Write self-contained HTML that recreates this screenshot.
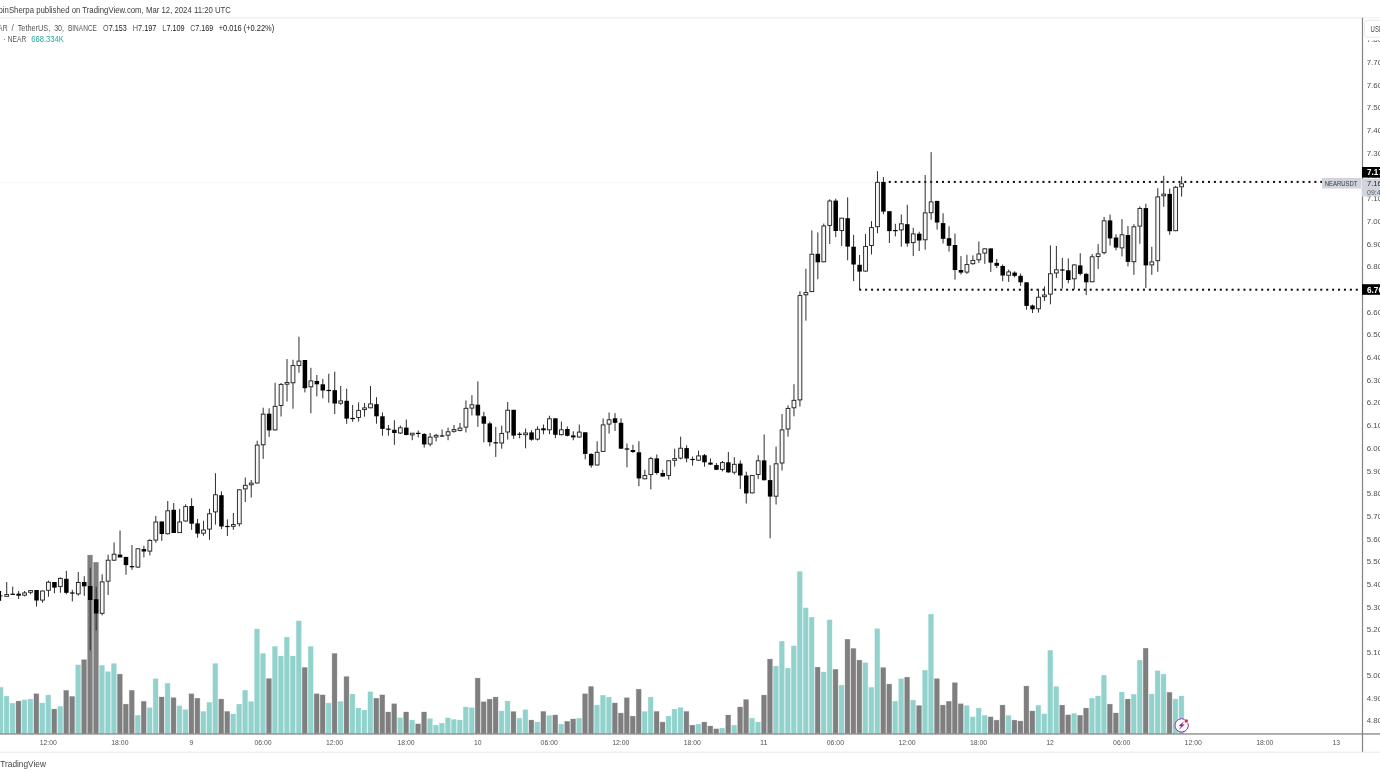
<!DOCTYPE html><html><head><meta charset="utf-8"><title>NEARUSDT chart</title>
<style>html,body{margin:0;padding:0;background:#fff;}body{width:1380px;height:773px;overflow:hidden;position:relative;font-family:"Liberation Sans",sans-serif;}svg{position:absolute;left:0;top:0;display:block;will-change:transform;transform:translateZ(0)}text{font-family:"Liberation Sans",sans-serif;}</style></head><body>
<svg width="1380" height="773" viewBox="0 0 1380 773">
<rect x="0" y="0" width="1380" height="773" fill="#fff"/>
<rect x="0" y="17.4" width="1380" height="1" fill="#e9e9ec"/>
<rect x="0" y="751.7" width="1380" height="1" fill="#e9e9ec"/>
<rect x="0" y="182.4" width="1322" height="0.8" fill="#f0f0f2"/>
<g shape-rendering="auto">
<rect x="-2.25" y="687.0" width="5.65" height="46.6" fill="#92d2cc" opacity="0.42"/>
<rect x="-1.80" y="687.3" width="4.75" height="46.3" fill="#92d2cc"/>
<rect x="3.71" y="695.9" width="5.65" height="37.7" fill="#92d2cc" opacity="0.42"/>
<rect x="4.16" y="696.2" width="4.75" height="37.4" fill="#92d2cc"/>
<rect x="9.68" y="703.0" width="5.65" height="30.6" fill="#92d2cc" opacity="0.42"/>
<rect x="10.13" y="703.3" width="4.75" height="30.3" fill="#92d2cc"/>
<rect x="15.64" y="700.8" width="5.65" height="32.8" fill="#7f7f7f" opacity="0.42"/>
<rect x="16.09" y="701.1" width="4.75" height="32.5" fill="#7f7f7f"/>
<rect x="21.61" y="699.6" width="5.65" height="34.0" fill="#92d2cc" opacity="0.42"/>
<rect x="22.06" y="699.9" width="4.75" height="33.7" fill="#92d2cc"/>
<rect x="27.57" y="698.9" width="5.65" height="34.7" fill="#92d2cc" opacity="0.42"/>
<rect x="28.02" y="699.2" width="4.75" height="34.4" fill="#92d2cc"/>
<rect x="33.53" y="693.5" width="5.65" height="40.1" fill="#7f7f7f" opacity="0.42"/>
<rect x="33.98" y="693.8" width="4.75" height="39.8" fill="#7f7f7f"/>
<rect x="39.50" y="702.7" width="5.65" height="30.9" fill="#92d2cc" opacity="0.42"/>
<rect x="39.95" y="703.0" width="4.75" height="30.6" fill="#92d2cc"/>
<rect x="45.46" y="694.8" width="5.65" height="38.8" fill="#92d2cc" opacity="0.42"/>
<rect x="45.91" y="695.1" width="4.75" height="38.5" fill="#92d2cc"/>
<rect x="51.43" y="708.8" width="5.65" height="24.8" fill="#7f7f7f" opacity="0.42"/>
<rect x="51.88" y="709.1" width="4.75" height="24.5" fill="#7f7f7f"/>
<rect x="57.39" y="706.1" width="5.65" height="27.5" fill="#92d2cc" opacity="0.42"/>
<rect x="57.84" y="706.4" width="4.75" height="27.2" fill="#92d2cc"/>
<rect x="63.35" y="690.1" width="5.65" height="43.5" fill="#7f7f7f" opacity="0.42"/>
<rect x="63.80" y="690.4" width="4.75" height="43.2" fill="#7f7f7f"/>
<rect x="69.32" y="696.2" width="5.65" height="37.4" fill="#7f7f7f" opacity="0.42"/>
<rect x="69.77" y="696.5" width="4.75" height="37.1" fill="#7f7f7f"/>
<rect x="75.28" y="664.6" width="5.65" height="69.0" fill="#92d2cc" opacity="0.42"/>
<rect x="75.73" y="664.9" width="4.75" height="68.7" fill="#92d2cc"/>
<rect x="81.25" y="659.4" width="5.65" height="74.2" fill="#7f7f7f" opacity="0.42"/>
<rect x="81.70" y="659.7" width="4.75" height="73.9" fill="#7f7f7f"/>
<rect x="87.21" y="554.8" width="5.65" height="178.8" fill="#7f7f7f" opacity="0.42"/>
<rect x="87.66" y="555.1" width="4.75" height="178.5" fill="#7f7f7f"/>
<rect x="93.17" y="562.0" width="5.65" height="171.6" fill="#7f7f7f" opacity="0.42"/>
<rect x="93.62" y="562.3" width="4.75" height="171.3" fill="#7f7f7f"/>
<rect x="99.14" y="665.1" width="5.65" height="68.5" fill="#92d2cc" opacity="0.42"/>
<rect x="99.59" y="665.4" width="4.75" height="68.2" fill="#92d2cc"/>
<rect x="105.10" y="671.4" width="5.65" height="62.2" fill="#92d2cc" opacity="0.42"/>
<rect x="105.55" y="671.7" width="4.75" height="61.9" fill="#92d2cc"/>
<rect x="111.07" y="663.3" width="5.65" height="70.3" fill="#92d2cc" opacity="0.42"/>
<rect x="111.52" y="663.6" width="4.75" height="70.0" fill="#92d2cc"/>
<rect x="117.03" y="673.9" width="5.65" height="59.7" fill="#7f7f7f" opacity="0.42"/>
<rect x="117.48" y="674.2" width="4.75" height="59.4" fill="#7f7f7f"/>
<rect x="122.99" y="703.9" width="5.65" height="29.7" fill="#7f7f7f" opacity="0.42"/>
<rect x="123.44" y="704.2" width="4.75" height="29.4" fill="#7f7f7f"/>
<rect x="128.96" y="690.1" width="5.65" height="43.5" fill="#7f7f7f" opacity="0.42"/>
<rect x="129.41" y="690.4" width="4.75" height="43.2" fill="#7f7f7f"/>
<rect x="134.92" y="715.0" width="5.65" height="18.6" fill="#92d2cc" opacity="0.42"/>
<rect x="135.37" y="715.3" width="4.75" height="18.3" fill="#92d2cc"/>
<rect x="140.89" y="701.1" width="5.65" height="32.5" fill="#7f7f7f" opacity="0.42"/>
<rect x="141.34" y="701.4" width="4.75" height="32.2" fill="#7f7f7f"/>
<rect x="146.85" y="707.4" width="5.65" height="26.2" fill="#92d2cc" opacity="0.42"/>
<rect x="147.30" y="707.7" width="4.75" height="25.9" fill="#92d2cc"/>
<rect x="152.81" y="678.5" width="5.65" height="55.1" fill="#92d2cc" opacity="0.42"/>
<rect x="153.26" y="678.8" width="4.75" height="54.8" fill="#92d2cc"/>
<rect x="158.78" y="696.7" width="5.65" height="36.9" fill="#7f7f7f" opacity="0.42"/>
<rect x="159.23" y="697.0" width="4.75" height="36.6" fill="#7f7f7f"/>
<rect x="164.74" y="683.0" width="5.65" height="50.6" fill="#92d2cc" opacity="0.42"/>
<rect x="165.19" y="683.3" width="4.75" height="50.3" fill="#92d2cc"/>
<rect x="170.71" y="697.4" width="5.65" height="36.2" fill="#7f7f7f" opacity="0.42"/>
<rect x="171.16" y="697.7" width="4.75" height="35.9" fill="#7f7f7f"/>
<rect x="176.67" y="705.5" width="5.65" height="28.1" fill="#92d2cc" opacity="0.42"/>
<rect x="177.12" y="705.8" width="4.75" height="27.8" fill="#92d2cc"/>
<rect x="182.63" y="709.4" width="5.65" height="24.2" fill="#92d2cc" opacity="0.42"/>
<rect x="183.08" y="709.7" width="4.75" height="23.9" fill="#92d2cc"/>
<rect x="188.60" y="693.5" width="5.65" height="40.1" fill="#7f7f7f" opacity="0.42"/>
<rect x="189.05" y="693.8" width="4.75" height="39.8" fill="#7f7f7f"/>
<rect x="194.56" y="698.0" width="5.65" height="35.6" fill="#7f7f7f" opacity="0.42"/>
<rect x="195.01" y="698.3" width="4.75" height="35.3" fill="#7f7f7f"/>
<rect x="200.53" y="711.2" width="5.65" height="22.4" fill="#92d2cc" opacity="0.42"/>
<rect x="200.98" y="711.5" width="4.75" height="22.1" fill="#92d2cc"/>
<rect x="206.49" y="702.1" width="5.65" height="31.5" fill="#92d2cc" opacity="0.42"/>
<rect x="206.94" y="702.4" width="4.75" height="31.2" fill="#92d2cc"/>
<rect x="212.45" y="663.3" width="5.65" height="70.3" fill="#92d2cc" opacity="0.42"/>
<rect x="212.90" y="663.6" width="4.75" height="70.0" fill="#92d2cc"/>
<rect x="218.42" y="698.8" width="5.65" height="34.8" fill="#7f7f7f" opacity="0.42"/>
<rect x="218.87" y="699.1" width="4.75" height="34.5" fill="#7f7f7f"/>
<rect x="224.38" y="711.2" width="5.65" height="22.4" fill="#7f7f7f" opacity="0.42"/>
<rect x="224.83" y="711.5" width="4.75" height="22.1" fill="#7f7f7f"/>
<rect x="230.35" y="713.7" width="5.65" height="19.9" fill="#92d2cc" opacity="0.42"/>
<rect x="230.80" y="714.0" width="4.75" height="19.6" fill="#92d2cc"/>
<rect x="236.31" y="703.9" width="5.65" height="29.7" fill="#92d2cc" opacity="0.42"/>
<rect x="236.76" y="704.2" width="4.75" height="29.4" fill="#92d2cc"/>
<rect x="242.27" y="690.0" width="5.65" height="43.6" fill="#92d2cc" opacity="0.42"/>
<rect x="242.72" y="690.3" width="4.75" height="43.3" fill="#92d2cc"/>
<rect x="248.24" y="701.3" width="5.65" height="32.3" fill="#92d2cc" opacity="0.42"/>
<rect x="248.69" y="701.6" width="4.75" height="32.0" fill="#92d2cc"/>
<rect x="254.20" y="628.7" width="5.65" height="104.9" fill="#92d2cc" opacity="0.42"/>
<rect x="254.65" y="629.0" width="4.75" height="104.6" fill="#92d2cc"/>
<rect x="260.17" y="653.2" width="5.65" height="80.4" fill="#92d2cc" opacity="0.42"/>
<rect x="260.62" y="653.5" width="4.75" height="80.1" fill="#92d2cc"/>
<rect x="266.13" y="678.3" width="5.65" height="55.3" fill="#7f7f7f" opacity="0.42"/>
<rect x="266.58" y="678.6" width="4.75" height="55.0" fill="#7f7f7f"/>
<rect x="272.09" y="646.2" width="5.65" height="87.4" fill="#92d2cc" opacity="0.42"/>
<rect x="272.54" y="646.5" width="4.75" height="87.1" fill="#92d2cc"/>
<rect x="278.06" y="655.8" width="5.65" height="77.8" fill="#92d2cc" opacity="0.42"/>
<rect x="278.51" y="656.1" width="4.75" height="77.5" fill="#92d2cc"/>
<rect x="284.02" y="636.9" width="5.65" height="96.7" fill="#92d2cc" opacity="0.42"/>
<rect x="284.47" y="637.2" width="4.75" height="96.4" fill="#92d2cc"/>
<rect x="289.99" y="655.8" width="5.65" height="77.8" fill="#92d2cc" opacity="0.42"/>
<rect x="290.44" y="656.1" width="4.75" height="77.5" fill="#92d2cc"/>
<rect x="295.95" y="620.6" width="5.65" height="113.0" fill="#92d2cc" opacity="0.42"/>
<rect x="296.40" y="620.9" width="4.75" height="112.7" fill="#92d2cc"/>
<rect x="301.91" y="667.2" width="5.65" height="66.4" fill="#7f7f7f" opacity="0.42"/>
<rect x="302.36" y="667.5" width="4.75" height="66.1" fill="#7f7f7f"/>
<rect x="307.88" y="646.2" width="5.65" height="87.4" fill="#92d2cc" opacity="0.42"/>
<rect x="308.33" y="646.5" width="4.75" height="87.1" fill="#92d2cc"/>
<rect x="313.84" y="693.5" width="5.65" height="40.1" fill="#7f7f7f" opacity="0.42"/>
<rect x="314.29" y="693.8" width="4.75" height="39.8" fill="#7f7f7f"/>
<rect x="319.81" y="694.6" width="5.65" height="39.0" fill="#7f7f7f" opacity="0.42"/>
<rect x="320.26" y="694.9" width="4.75" height="38.7" fill="#7f7f7f"/>
<rect x="325.77" y="702.8" width="5.65" height="30.8" fill="#92d2cc" opacity="0.42"/>
<rect x="326.22" y="703.1" width="4.75" height="30.5" fill="#92d2cc"/>
<rect x="331.73" y="653.2" width="5.65" height="80.4" fill="#7f7f7f" opacity="0.42"/>
<rect x="332.18" y="653.5" width="4.75" height="80.1" fill="#7f7f7f"/>
<rect x="337.70" y="701.3" width="5.65" height="32.3" fill="#92d2cc" opacity="0.42"/>
<rect x="338.15" y="701.6" width="4.75" height="32.0" fill="#92d2cc"/>
<rect x="343.66" y="676.3" width="5.65" height="57.3" fill="#7f7f7f" opacity="0.42"/>
<rect x="344.11" y="676.6" width="4.75" height="57.0" fill="#7f7f7f"/>
<rect x="349.63" y="693.8" width="5.65" height="39.8" fill="#92d2cc" opacity="0.42"/>
<rect x="350.08" y="694.1" width="4.75" height="39.5" fill="#92d2cc"/>
<rect x="355.59" y="707.8" width="5.65" height="25.8" fill="#92d2cc" opacity="0.42"/>
<rect x="356.04" y="708.1" width="4.75" height="25.5" fill="#92d2cc"/>
<rect x="361.55" y="709.8" width="5.65" height="23.8" fill="#92d2cc" opacity="0.42"/>
<rect x="362.00" y="710.1" width="4.75" height="23.5" fill="#92d2cc"/>
<rect x="367.52" y="691.5" width="5.65" height="42.1" fill="#92d2cc" opacity="0.42"/>
<rect x="367.97" y="691.8" width="4.75" height="41.8" fill="#92d2cc"/>
<rect x="373.48" y="698.0" width="5.65" height="35.6" fill="#7f7f7f" opacity="0.42"/>
<rect x="373.93" y="698.3" width="4.75" height="35.3" fill="#7f7f7f"/>
<rect x="379.45" y="694.6" width="5.65" height="39.0" fill="#7f7f7f" opacity="0.42"/>
<rect x="379.90" y="694.9" width="4.75" height="38.7" fill="#7f7f7f"/>
<rect x="385.41" y="711.7" width="5.65" height="21.9" fill="#7f7f7f" opacity="0.42"/>
<rect x="385.86" y="712.0" width="4.75" height="21.6" fill="#7f7f7f"/>
<rect x="391.37" y="703.5" width="5.65" height="30.1" fill="#7f7f7f" opacity="0.42"/>
<rect x="391.82" y="703.8" width="4.75" height="29.8" fill="#7f7f7f"/>
<rect x="397.34" y="717.6" width="5.65" height="16.0" fill="#92d2cc" opacity="0.42"/>
<rect x="397.79" y="717.9" width="4.75" height="15.7" fill="#92d2cc"/>
<rect x="403.30" y="711.7" width="5.65" height="21.9" fill="#7f7f7f" opacity="0.42"/>
<rect x="403.75" y="712.0" width="4.75" height="21.6" fill="#7f7f7f"/>
<rect x="409.27" y="719.8" width="5.65" height="13.8" fill="#92d2cc" opacity="0.42"/>
<rect x="409.72" y="720.1" width="4.75" height="13.5" fill="#92d2cc"/>
<rect x="415.23" y="723.6" width="5.65" height="10.0" fill="#7f7f7f" opacity="0.42"/>
<rect x="415.68" y="723.9" width="4.75" height="9.7" fill="#7f7f7f"/>
<rect x="421.19" y="711.7" width="5.65" height="21.9" fill="#7f7f7f" opacity="0.42"/>
<rect x="421.64" y="712.0" width="4.75" height="21.6" fill="#7f7f7f"/>
<rect x="427.16" y="718.4" width="5.65" height="15.2" fill="#92d2cc" opacity="0.42"/>
<rect x="427.61" y="718.7" width="4.75" height="14.9" fill="#92d2cc"/>
<rect x="433.12" y="724.9" width="5.65" height="8.7" fill="#92d2cc" opacity="0.42"/>
<rect x="433.57" y="725.2" width="4.75" height="8.4" fill="#92d2cc"/>
<rect x="439.09" y="722.9" width="5.65" height="10.7" fill="#92d2cc" opacity="0.42"/>
<rect x="439.54" y="723.2" width="4.75" height="10.4" fill="#92d2cc"/>
<rect x="445.05" y="717.6" width="5.65" height="16.0" fill="#92d2cc" opacity="0.42"/>
<rect x="445.50" y="717.9" width="4.75" height="15.7" fill="#92d2cc"/>
<rect x="451.01" y="719.2" width="5.65" height="14.4" fill="#92d2cc" opacity="0.42"/>
<rect x="451.46" y="719.5" width="4.75" height="14.1" fill="#92d2cc"/>
<rect x="456.98" y="719.8" width="5.65" height="13.8" fill="#92d2cc" opacity="0.42"/>
<rect x="457.43" y="720.1" width="4.75" height="13.5" fill="#92d2cc"/>
<rect x="462.94" y="706.7" width="5.65" height="26.9" fill="#92d2cc" opacity="0.42"/>
<rect x="463.39" y="707.0" width="4.75" height="26.6" fill="#92d2cc"/>
<rect x="468.91" y="707.5" width="5.65" height="26.1" fill="#92d2cc" opacity="0.42"/>
<rect x="469.36" y="707.8" width="4.75" height="25.8" fill="#92d2cc"/>
<rect x="474.87" y="677.8" width="5.65" height="55.8" fill="#7f7f7f" opacity="0.42"/>
<rect x="475.32" y="678.1" width="4.75" height="55.5" fill="#7f7f7f"/>
<rect x="480.83" y="701.5" width="5.65" height="32.1" fill="#7f7f7f" opacity="0.42"/>
<rect x="481.28" y="701.8" width="4.75" height="31.8" fill="#7f7f7f"/>
<rect x="486.80" y="698.9" width="5.65" height="34.7" fill="#7f7f7f" opacity="0.42"/>
<rect x="487.25" y="699.2" width="4.75" height="34.4" fill="#7f7f7f"/>
<rect x="492.76" y="696.8" width="5.65" height="36.8" fill="#7f7f7f" opacity="0.42"/>
<rect x="493.21" y="697.1" width="4.75" height="36.5" fill="#7f7f7f"/>
<rect x="498.73" y="710.7" width="5.65" height="22.9" fill="#92d2cc" opacity="0.42"/>
<rect x="499.18" y="711.0" width="4.75" height="22.6" fill="#92d2cc"/>
<rect x="504.69" y="700.8" width="5.65" height="32.8" fill="#92d2cc" opacity="0.42"/>
<rect x="505.14" y="701.1" width="4.75" height="32.5" fill="#92d2cc"/>
<rect x="510.65" y="711.3" width="5.65" height="22.3" fill="#7f7f7f" opacity="0.42"/>
<rect x="511.10" y="711.6" width="4.75" height="22.0" fill="#7f7f7f"/>
<rect x="516.62" y="718.0" width="5.65" height="15.6" fill="#92d2cc" opacity="0.42"/>
<rect x="517.07" y="718.3" width="4.75" height="15.3" fill="#92d2cc"/>
<rect x="522.58" y="709.5" width="5.65" height="24.1" fill="#92d2cc" opacity="0.42"/>
<rect x="523.03" y="709.8" width="4.75" height="23.8" fill="#92d2cc"/>
<rect x="528.55" y="719.8" width="5.65" height="13.8" fill="#7f7f7f" opacity="0.42"/>
<rect x="529.00" y="720.1" width="4.75" height="13.5" fill="#7f7f7f"/>
<rect x="534.51" y="721.8" width="5.65" height="11.8" fill="#92d2cc" opacity="0.42"/>
<rect x="534.96" y="722.1" width="4.75" height="11.5" fill="#92d2cc"/>
<rect x="540.47" y="711.2" width="5.65" height="22.4" fill="#7f7f7f" opacity="0.42"/>
<rect x="540.92" y="711.5" width="4.75" height="22.1" fill="#7f7f7f"/>
<rect x="546.44" y="715.3" width="5.65" height="18.3" fill="#92d2cc" opacity="0.42"/>
<rect x="546.89" y="715.6" width="4.75" height="18.0" fill="#92d2cc"/>
<rect x="552.40" y="714.7" width="5.65" height="18.9" fill="#7f7f7f" opacity="0.42"/>
<rect x="552.85" y="715.0" width="4.75" height="18.6" fill="#7f7f7f"/>
<rect x="558.37" y="723.9" width="5.65" height="9.7" fill="#92d2cc" opacity="0.42"/>
<rect x="558.82" y="724.2" width="4.75" height="9.4" fill="#92d2cc"/>
<rect x="564.33" y="721.1" width="5.65" height="12.5" fill="#7f7f7f" opacity="0.42"/>
<rect x="564.78" y="721.4" width="4.75" height="12.2" fill="#7f7f7f"/>
<rect x="570.29" y="718.7" width="5.65" height="14.9" fill="#7f7f7f" opacity="0.42"/>
<rect x="570.74" y="719.0" width="4.75" height="14.6" fill="#7f7f7f"/>
<rect x="576.26" y="718.0" width="5.65" height="15.6" fill="#92d2cc" opacity="0.42"/>
<rect x="576.71" y="718.3" width="4.75" height="15.3" fill="#92d2cc"/>
<rect x="582.22" y="693.5" width="5.65" height="40.1" fill="#7f7f7f" opacity="0.42"/>
<rect x="582.67" y="693.8" width="4.75" height="39.8" fill="#7f7f7f"/>
<rect x="588.19" y="686.2" width="5.65" height="47.4" fill="#7f7f7f" opacity="0.42"/>
<rect x="588.64" y="686.5" width="4.75" height="47.1" fill="#7f7f7f"/>
<rect x="594.15" y="704.8" width="5.65" height="28.8" fill="#92d2cc" opacity="0.42"/>
<rect x="594.60" y="705.1" width="4.75" height="28.5" fill="#92d2cc"/>
<rect x="600.11" y="695.0" width="5.65" height="38.6" fill="#92d2cc" opacity="0.42"/>
<rect x="600.56" y="695.3" width="4.75" height="38.3" fill="#92d2cc"/>
<rect x="606.08" y="696.9" width="5.65" height="36.7" fill="#92d2cc" opacity="0.42"/>
<rect x="606.53" y="697.2" width="4.75" height="36.4" fill="#92d2cc"/>
<rect x="612.04" y="702.7" width="5.65" height="30.9" fill="#7f7f7f" opacity="0.42"/>
<rect x="612.49" y="703.0" width="4.75" height="30.6" fill="#7f7f7f"/>
<rect x="618.01" y="712.8" width="5.65" height="20.8" fill="#7f7f7f" opacity="0.42"/>
<rect x="618.46" y="713.1" width="4.75" height="20.5" fill="#7f7f7f"/>
<rect x="623.97" y="697.5" width="5.65" height="36.1" fill="#7f7f7f" opacity="0.42"/>
<rect x="624.42" y="697.8" width="4.75" height="35.8" fill="#7f7f7f"/>
<rect x="629.93" y="715.9" width="5.65" height="17.7" fill="#7f7f7f" opacity="0.42"/>
<rect x="630.38" y="716.2" width="4.75" height="17.4" fill="#7f7f7f"/>
<rect x="635.90" y="688.9" width="5.65" height="44.7" fill="#7f7f7f" opacity="0.42"/>
<rect x="636.35" y="689.2" width="4.75" height="44.4" fill="#7f7f7f"/>
<rect x="641.86" y="711.3" width="5.65" height="22.3" fill="#92d2cc" opacity="0.42"/>
<rect x="642.31" y="711.6" width="4.75" height="22.0" fill="#92d2cc"/>
<rect x="647.83" y="696.8" width="5.65" height="36.8" fill="#92d2cc" opacity="0.42"/>
<rect x="648.28" y="697.1" width="4.75" height="36.5" fill="#92d2cc"/>
<rect x="653.79" y="711.2" width="5.65" height="22.4" fill="#7f7f7f" opacity="0.42"/>
<rect x="654.24" y="711.5" width="4.75" height="22.1" fill="#7f7f7f"/>
<rect x="659.75" y="721.8" width="5.65" height="11.8" fill="#7f7f7f" opacity="0.42"/>
<rect x="660.20" y="722.1" width="4.75" height="11.5" fill="#7f7f7f"/>
<rect x="665.72" y="715.9" width="5.65" height="17.7" fill="#92d2cc" opacity="0.42"/>
<rect x="666.17" y="716.2" width="4.75" height="17.4" fill="#92d2cc"/>
<rect x="671.68" y="708.8" width="5.65" height="24.8" fill="#92d2cc" opacity="0.42"/>
<rect x="672.13" y="709.1" width="4.75" height="24.5" fill="#92d2cc"/>
<rect x="677.65" y="707.3" width="5.65" height="26.3" fill="#92d2cc" opacity="0.42"/>
<rect x="678.10" y="707.6" width="4.75" height="26.0" fill="#92d2cc"/>
<rect x="683.61" y="711.2" width="5.65" height="22.4" fill="#7f7f7f" opacity="0.42"/>
<rect x="684.06" y="711.5" width="4.75" height="22.1" fill="#7f7f7f"/>
<rect x="689.57" y="724.9" width="5.65" height="8.7" fill="#7f7f7f" opacity="0.42"/>
<rect x="690.02" y="725.2" width="4.75" height="8.4" fill="#7f7f7f"/>
<rect x="695.54" y="723.9" width="5.65" height="9.7" fill="#92d2cc" opacity="0.42"/>
<rect x="695.99" y="724.2" width="4.75" height="9.4" fill="#92d2cc"/>
<rect x="701.50" y="721.8" width="5.65" height="11.8" fill="#7f7f7f" opacity="0.42"/>
<rect x="701.95" y="722.1" width="4.75" height="11.5" fill="#7f7f7f"/>
<rect x="707.47" y="725.7" width="5.65" height="7.9" fill="#7f7f7f" opacity="0.42"/>
<rect x="707.92" y="726.0" width="4.75" height="7.6" fill="#7f7f7f"/>
<rect x="713.43" y="728.6" width="5.65" height="5.0" fill="#7f7f7f" opacity="0.42"/>
<rect x="713.88" y="728.9" width="4.75" height="4.7" fill="#7f7f7f"/>
<rect x="719.39" y="727.8" width="5.65" height="5.8" fill="#92d2cc" opacity="0.42"/>
<rect x="719.84" y="728.1" width="4.75" height="5.5" fill="#92d2cc"/>
<rect x="725.36" y="714.7" width="5.65" height="18.9" fill="#7f7f7f" opacity="0.42"/>
<rect x="725.81" y="715.0" width="4.75" height="18.6" fill="#7f7f7f"/>
<rect x="731.32" y="724.9" width="5.65" height="8.7" fill="#92d2cc" opacity="0.42"/>
<rect x="731.77" y="725.2" width="4.75" height="8.4" fill="#92d2cc"/>
<rect x="737.29" y="706.7" width="5.65" height="26.9" fill="#7f7f7f" opacity="0.42"/>
<rect x="737.74" y="707.0" width="4.75" height="26.6" fill="#7f7f7f"/>
<rect x="743.25" y="699.3" width="5.65" height="34.3" fill="#7f7f7f" opacity="0.42"/>
<rect x="743.70" y="699.6" width="4.75" height="34.0" fill="#7f7f7f"/>
<rect x="749.21" y="718.0" width="5.65" height="15.6" fill="#92d2cc" opacity="0.42"/>
<rect x="749.66" y="718.3" width="4.75" height="15.3" fill="#92d2cc"/>
<rect x="755.18" y="721.8" width="5.65" height="11.8" fill="#92d2cc" opacity="0.42"/>
<rect x="755.63" y="722.1" width="4.75" height="11.5" fill="#92d2cc"/>
<rect x="761.14" y="694.8" width="5.65" height="38.8" fill="#7f7f7f" opacity="0.42"/>
<rect x="761.59" y="695.1" width="4.75" height="38.5" fill="#7f7f7f"/>
<rect x="767.11" y="658.8" width="5.65" height="74.8" fill="#7f7f7f" opacity="0.42"/>
<rect x="767.56" y="659.1" width="4.75" height="74.5" fill="#7f7f7f"/>
<rect x="773.07" y="665.8" width="5.65" height="67.8" fill="#92d2cc" opacity="0.42"/>
<rect x="773.52" y="666.1" width="4.75" height="67.5" fill="#92d2cc"/>
<rect x="779.03" y="641.0" width="5.65" height="92.6" fill="#92d2cc" opacity="0.42"/>
<rect x="779.48" y="641.3" width="4.75" height="92.3" fill="#92d2cc"/>
<rect x="785.00" y="668.0" width="5.65" height="65.6" fill="#92d2cc" opacity="0.42"/>
<rect x="785.45" y="668.3" width="4.75" height="65.3" fill="#92d2cc"/>
<rect x="790.96" y="645.6" width="5.65" height="88.0" fill="#92d2cc" opacity="0.42"/>
<rect x="791.41" y="645.9" width="4.75" height="87.7" fill="#92d2cc"/>
<rect x="796.93" y="571.3" width="5.65" height="162.3" fill="#92d2cc" opacity="0.42"/>
<rect x="797.38" y="571.6" width="4.75" height="162.0" fill="#92d2cc"/>
<rect x="802.89" y="607.6" width="5.65" height="126.0" fill="#92d2cc" opacity="0.42"/>
<rect x="803.34" y="607.9" width="4.75" height="125.7" fill="#92d2cc"/>
<rect x="808.85" y="617.0" width="5.65" height="116.6" fill="#92d2cc" opacity="0.42"/>
<rect x="809.30" y="617.3" width="4.75" height="116.3" fill="#92d2cc"/>
<rect x="814.82" y="666.9" width="5.65" height="66.7" fill="#7f7f7f" opacity="0.42"/>
<rect x="815.27" y="667.2" width="4.75" height="66.4" fill="#7f7f7f"/>
<rect x="820.78" y="671.7" width="5.65" height="61.9" fill="#92d2cc" opacity="0.42"/>
<rect x="821.23" y="672.0" width="4.75" height="61.6" fill="#92d2cc"/>
<rect x="826.75" y="619.6" width="5.65" height="114.0" fill="#92d2cc" opacity="0.42"/>
<rect x="827.20" y="619.9" width="4.75" height="113.7" fill="#92d2cc"/>
<rect x="832.71" y="669.1" width="5.65" height="64.5" fill="#7f7f7f" opacity="0.42"/>
<rect x="833.16" y="669.4" width="4.75" height="64.2" fill="#7f7f7f"/>
<rect x="838.67" y="684.9" width="5.65" height="48.7" fill="#92d2cc" opacity="0.42"/>
<rect x="839.12" y="685.2" width="4.75" height="48.4" fill="#92d2cc"/>
<rect x="844.64" y="639.0" width="5.65" height="94.6" fill="#7f7f7f" opacity="0.42"/>
<rect x="845.09" y="639.3" width="4.75" height="94.3" fill="#7f7f7f"/>
<rect x="850.60" y="648.2" width="5.65" height="85.4" fill="#7f7f7f" opacity="0.42"/>
<rect x="851.05" y="648.5" width="4.75" height="85.1" fill="#7f7f7f"/>
<rect x="856.57" y="659.9" width="5.65" height="73.7" fill="#7f7f7f" opacity="0.42"/>
<rect x="857.02" y="660.2" width="4.75" height="73.4" fill="#7f7f7f"/>
<rect x="862.53" y="662.5" width="5.65" height="71.1" fill="#92d2cc" opacity="0.42"/>
<rect x="862.98" y="662.8" width="4.75" height="70.8" fill="#92d2cc"/>
<rect x="868.49" y="687.1" width="5.65" height="46.5" fill="#92d2cc" opacity="0.42"/>
<rect x="868.94" y="687.4" width="4.75" height="46.2" fill="#92d2cc"/>
<rect x="874.46" y="628.4" width="5.65" height="105.2" fill="#92d2cc" opacity="0.42"/>
<rect x="874.91" y="628.7" width="4.75" height="104.9" fill="#92d2cc"/>
<rect x="880.42" y="667.3" width="5.65" height="66.3" fill="#7f7f7f" opacity="0.42"/>
<rect x="880.87" y="667.6" width="4.75" height="66.0" fill="#7f7f7f"/>
<rect x="886.39" y="683.8" width="5.65" height="49.8" fill="#7f7f7f" opacity="0.42"/>
<rect x="886.84" y="684.1" width="4.75" height="49.5" fill="#7f7f7f"/>
<rect x="892.35" y="701.0" width="5.65" height="32.6" fill="#92d2cc" opacity="0.42"/>
<rect x="892.80" y="701.3" width="4.75" height="32.3" fill="#92d2cc"/>
<rect x="898.31" y="678.5" width="5.65" height="55.1" fill="#92d2cc" opacity="0.42"/>
<rect x="898.76" y="678.8" width="4.75" height="54.8" fill="#92d2cc"/>
<rect x="904.28" y="676.9" width="5.65" height="56.7" fill="#7f7f7f" opacity="0.42"/>
<rect x="904.73" y="677.2" width="4.75" height="56.4" fill="#7f7f7f"/>
<rect x="910.24" y="699.8" width="5.65" height="33.8" fill="#92d2cc" opacity="0.42"/>
<rect x="910.69" y="700.1" width="4.75" height="33.5" fill="#92d2cc"/>
<rect x="916.21" y="705.3" width="5.65" height="28.3" fill="#7f7f7f" opacity="0.42"/>
<rect x="916.66" y="705.6" width="4.75" height="28.0" fill="#7f7f7f"/>
<rect x="922.17" y="670.0" width="5.65" height="63.6" fill="#92d2cc" opacity="0.42"/>
<rect x="922.62" y="670.3" width="4.75" height="63.3" fill="#92d2cc"/>
<rect x="928.13" y="614.0" width="5.65" height="119.6" fill="#92d2cc" opacity="0.42"/>
<rect x="928.58" y="614.3" width="4.75" height="119.3" fill="#92d2cc"/>
<rect x="934.10" y="678.4" width="5.65" height="55.2" fill="#7f7f7f" opacity="0.42"/>
<rect x="934.55" y="678.7" width="4.75" height="54.9" fill="#7f7f7f"/>
<rect x="940.06" y="704.8" width="5.65" height="28.8" fill="#7f7f7f" opacity="0.42"/>
<rect x="940.51" y="705.1" width="4.75" height="28.5" fill="#7f7f7f"/>
<rect x="946.03" y="701.1" width="5.65" height="32.5" fill="#7f7f7f" opacity="0.42"/>
<rect x="946.48" y="701.4" width="4.75" height="32.2" fill="#7f7f7f"/>
<rect x="951.99" y="682.4" width="5.65" height="51.2" fill="#7f7f7f" opacity="0.42"/>
<rect x="952.44" y="682.7" width="4.75" height="50.9" fill="#7f7f7f"/>
<rect x="957.95" y="703.5" width="5.65" height="30.1" fill="#7f7f7f" opacity="0.42"/>
<rect x="958.40" y="703.8" width="4.75" height="29.8" fill="#7f7f7f"/>
<rect x="963.92" y="705.3" width="5.65" height="28.3" fill="#92d2cc" opacity="0.42"/>
<rect x="964.37" y="705.6" width="4.75" height="28.0" fill="#92d2cc"/>
<rect x="969.88" y="716.6" width="5.65" height="17.0" fill="#92d2cc" opacity="0.42"/>
<rect x="970.33" y="716.9" width="4.75" height="16.7" fill="#92d2cc"/>
<rect x="975.85" y="707.8" width="5.65" height="25.8" fill="#92d2cc" opacity="0.42"/>
<rect x="976.30" y="708.1" width="4.75" height="25.5" fill="#92d2cc"/>
<rect x="981.81" y="715.2" width="5.65" height="18.4" fill="#92d2cc" opacity="0.42"/>
<rect x="982.26" y="715.5" width="4.75" height="18.1" fill="#92d2cc"/>
<rect x="987.77" y="716.6" width="5.65" height="17.0" fill="#7f7f7f" opacity="0.42"/>
<rect x="988.22" y="716.9" width="4.75" height="16.7" fill="#7f7f7f"/>
<rect x="993.74" y="719.9" width="5.65" height="13.7" fill="#7f7f7f" opacity="0.42"/>
<rect x="994.19" y="720.2" width="4.75" height="13.4" fill="#7f7f7f"/>
<rect x="999.70" y="704.8" width="5.65" height="28.8" fill="#7f7f7f" opacity="0.42"/>
<rect x="1000.15" y="705.1" width="4.75" height="28.5" fill="#7f7f7f"/>
<rect x="1005.67" y="715.2" width="5.65" height="18.4" fill="#92d2cc" opacity="0.42"/>
<rect x="1006.12" y="715.5" width="4.75" height="18.1" fill="#92d2cc"/>
<rect x="1011.63" y="719.9" width="5.65" height="13.7" fill="#7f7f7f" opacity="0.42"/>
<rect x="1012.08" y="720.2" width="4.75" height="13.4" fill="#7f7f7f"/>
<rect x="1017.59" y="720.8" width="5.65" height="12.8" fill="#7f7f7f" opacity="0.42"/>
<rect x="1018.04" y="721.1" width="4.75" height="12.5" fill="#7f7f7f"/>
<rect x="1023.56" y="685.8" width="5.65" height="47.8" fill="#7f7f7f" opacity="0.42"/>
<rect x="1024.01" y="686.1" width="4.75" height="47.5" fill="#7f7f7f"/>
<rect x="1029.52" y="710.7" width="5.65" height="22.9" fill="#7f7f7f" opacity="0.42"/>
<rect x="1029.97" y="711.0" width="4.75" height="22.6" fill="#7f7f7f"/>
<rect x="1035.49" y="705.1" width="5.65" height="28.5" fill="#92d2cc" opacity="0.42"/>
<rect x="1035.94" y="705.4" width="4.75" height="28.2" fill="#92d2cc"/>
<rect x="1041.45" y="713.6" width="5.65" height="20.0" fill="#92d2cc" opacity="0.42"/>
<rect x="1041.90" y="713.9" width="4.75" height="19.7" fill="#92d2cc"/>
<rect x="1047.41" y="650.1" width="5.65" height="83.5" fill="#92d2cc" opacity="0.42"/>
<rect x="1047.86" y="650.4" width="4.75" height="83.2" fill="#92d2cc"/>
<rect x="1053.38" y="686.3" width="5.65" height="47.3" fill="#92d2cc" opacity="0.42"/>
<rect x="1053.83" y="686.6" width="4.75" height="47.0" fill="#92d2cc"/>
<rect x="1059.34" y="704.9" width="5.65" height="28.7" fill="#7f7f7f" opacity="0.42"/>
<rect x="1059.79" y="705.2" width="4.75" height="28.4" fill="#7f7f7f"/>
<rect x="1065.31" y="714.6" width="5.65" height="19.0" fill="#7f7f7f" opacity="0.42"/>
<rect x="1065.76" y="714.9" width="4.75" height="18.7" fill="#7f7f7f"/>
<rect x="1071.27" y="713.2" width="5.65" height="20.4" fill="#92d2cc" opacity="0.42"/>
<rect x="1071.72" y="713.5" width="4.75" height="20.1" fill="#92d2cc"/>
<rect x="1077.23" y="715.1" width="5.65" height="18.5" fill="#7f7f7f" opacity="0.42"/>
<rect x="1077.68" y="715.4" width="4.75" height="18.2" fill="#7f7f7f"/>
<rect x="1083.20" y="707.8" width="5.65" height="25.8" fill="#7f7f7f" opacity="0.42"/>
<rect x="1083.65" y="708.1" width="4.75" height="25.5" fill="#7f7f7f"/>
<rect x="1089.16" y="698.0" width="5.65" height="35.6" fill="#92d2cc" opacity="0.42"/>
<rect x="1089.61" y="698.3" width="4.75" height="35.3" fill="#92d2cc"/>
<rect x="1095.13" y="695.7" width="5.65" height="37.9" fill="#92d2cc" opacity="0.42"/>
<rect x="1095.58" y="696.0" width="4.75" height="37.6" fill="#92d2cc"/>
<rect x="1101.09" y="675.0" width="5.65" height="58.6" fill="#92d2cc" opacity="0.42"/>
<rect x="1101.54" y="675.3" width="4.75" height="58.3" fill="#92d2cc"/>
<rect x="1107.05" y="703.9" width="5.65" height="29.7" fill="#7f7f7f" opacity="0.42"/>
<rect x="1107.50" y="704.2" width="4.75" height="29.4" fill="#7f7f7f"/>
<rect x="1113.02" y="712.7" width="5.65" height="20.9" fill="#7f7f7f" opacity="0.42"/>
<rect x="1113.47" y="713.0" width="4.75" height="20.6" fill="#7f7f7f"/>
<rect x="1118.98" y="691.8" width="5.65" height="41.8" fill="#92d2cc" opacity="0.42"/>
<rect x="1119.43" y="692.1" width="4.75" height="41.5" fill="#92d2cc"/>
<rect x="1124.95" y="698.8" width="5.65" height="34.8" fill="#7f7f7f" opacity="0.42"/>
<rect x="1125.40" y="699.1" width="4.75" height="34.5" fill="#7f7f7f"/>
<rect x="1130.91" y="694.1" width="5.65" height="39.5" fill="#92d2cc" opacity="0.42"/>
<rect x="1131.36" y="694.4" width="4.75" height="39.2" fill="#92d2cc"/>
<rect x="1136.87" y="660.0" width="5.65" height="73.6" fill="#92d2cc" opacity="0.42"/>
<rect x="1137.32" y="660.3" width="4.75" height="73.3" fill="#92d2cc"/>
<rect x="1142.84" y="648.0" width="5.65" height="85.6" fill="#7f7f7f" opacity="0.42"/>
<rect x="1143.29" y="648.3" width="4.75" height="85.3" fill="#7f7f7f"/>
<rect x="1148.80" y="693.8" width="5.65" height="39.8" fill="#92d2cc" opacity="0.42"/>
<rect x="1149.25" y="694.1" width="4.75" height="39.5" fill="#92d2cc"/>
<rect x="1154.77" y="670.5" width="5.65" height="63.1" fill="#92d2cc" opacity="0.42"/>
<rect x="1155.22" y="670.8" width="4.75" height="62.8" fill="#92d2cc"/>
<rect x="1160.73" y="673.9" width="5.65" height="59.7" fill="#92d2cc" opacity="0.42"/>
<rect x="1161.18" y="674.2" width="4.75" height="59.4" fill="#92d2cc"/>
<rect x="1166.69" y="692.1" width="5.65" height="41.5" fill="#7f7f7f" opacity="0.42"/>
<rect x="1167.14" y="692.4" width="4.75" height="41.2" fill="#7f7f7f"/>
<rect x="1172.66" y="698.8" width="5.65" height="34.8" fill="#92d2cc" opacity="0.42"/>
<rect x="1173.11" y="699.1" width="4.75" height="34.5" fill="#92d2cc"/>
<rect x="1178.62" y="695.7" width="5.65" height="37.9" fill="#92d2cc" opacity="0.42"/>
<rect x="1179.07" y="696.0" width="4.75" height="37.6" fill="#92d2cc"/>
</g>
<rect x="0" y="733.3" width="1380" height="1.3" fill="#858585"/>
<rect x="1361.9" y="17.8" width="1.2" height="734" fill="#828282"/>
<rect x="888.78" y="180.90" width="2" height="2" fill="#0a0a0a"/><rect x="894.69" y="180.90" width="2" height="2" fill="#0a0a0a"/><rect x="900.60" y="180.90" width="2" height="2" fill="#0a0a0a"/><rect x="906.51" y="180.90" width="2" height="2" fill="#0a0a0a"/><rect x="912.43" y="180.90" width="2" height="2" fill="#0a0a0a"/><rect x="918.34" y="180.90" width="2" height="2" fill="#0a0a0a"/><rect x="924.25" y="180.90" width="2" height="2" fill="#0a0a0a"/><rect x="930.16" y="180.90" width="2" height="2" fill="#0a0a0a"/><rect x="936.07" y="180.90" width="2" height="2" fill="#0a0a0a"/><rect x="941.98" y="180.90" width="2" height="2" fill="#0a0a0a"/><rect x="947.89" y="180.90" width="2" height="2" fill="#0a0a0a"/><rect x="953.80" y="180.90" width="2" height="2" fill="#0a0a0a"/><rect x="959.72" y="180.90" width="2" height="2" fill="#0a0a0a"/><rect x="965.63" y="180.90" width="2" height="2" fill="#0a0a0a"/><rect x="971.54" y="180.90" width="2" height="2" fill="#0a0a0a"/><rect x="977.45" y="180.90" width="2" height="2" fill="#0a0a0a"/><rect x="983.36" y="180.90" width="2" height="2" fill="#0a0a0a"/><rect x="989.27" y="180.90" width="2" height="2" fill="#0a0a0a"/><rect x="995.18" y="180.90" width="2" height="2" fill="#0a0a0a"/><rect x="1001.09" y="180.90" width="2" height="2" fill="#0a0a0a"/><rect x="1007.01" y="180.90" width="2" height="2" fill="#0a0a0a"/><rect x="1012.92" y="180.90" width="2" height="2" fill="#0a0a0a"/><rect x="1018.83" y="180.90" width="2" height="2" fill="#0a0a0a"/><rect x="1024.74" y="180.90" width="2" height="2" fill="#0a0a0a"/><rect x="1030.65" y="180.90" width="2" height="2" fill="#0a0a0a"/><rect x="1036.56" y="180.90" width="2" height="2" fill="#0a0a0a"/><rect x="1042.47" y="180.90" width="2" height="2" fill="#0a0a0a"/><rect x="1048.39" y="180.90" width="2" height="2" fill="#0a0a0a"/><rect x="1054.30" y="180.90" width="2" height="2" fill="#0a0a0a"/><rect x="1060.21" y="180.90" width="2" height="2" fill="#0a0a0a"/><rect x="1066.12" y="180.90" width="2" height="2" fill="#0a0a0a"/><rect x="1072.03" y="180.90" width="2" height="2" fill="#0a0a0a"/><rect x="1077.94" y="180.90" width="2" height="2" fill="#0a0a0a"/><rect x="1083.85" y="180.90" width="2" height="2" fill="#0a0a0a"/><rect x="1089.76" y="180.90" width="2" height="2" fill="#0a0a0a"/><rect x="1095.68" y="180.90" width="2" height="2" fill="#0a0a0a"/><rect x="1101.59" y="180.90" width="2" height="2" fill="#0a0a0a"/><rect x="1107.50" y="180.90" width="2" height="2" fill="#0a0a0a"/><rect x="1113.41" y="180.90" width="2" height="2" fill="#0a0a0a"/><rect x="1119.32" y="180.90" width="2" height="2" fill="#0a0a0a"/><rect x="1125.23" y="180.90" width="2" height="2" fill="#0a0a0a"/><rect x="1131.14" y="180.90" width="2" height="2" fill="#0a0a0a"/><rect x="1137.05" y="180.90" width="2" height="2" fill="#0a0a0a"/><rect x="1142.97" y="180.90" width="2" height="2" fill="#0a0a0a"/><rect x="1148.88" y="180.90" width="2" height="2" fill="#0a0a0a"/><rect x="1154.79" y="180.90" width="2" height="2" fill="#0a0a0a"/><rect x="1160.70" y="180.90" width="2" height="2" fill="#0a0a0a"/><rect x="1166.61" y="180.90" width="2" height="2" fill="#0a0a0a"/><rect x="1172.52" y="180.90" width="2" height="2" fill="#0a0a0a"/><rect x="1178.43" y="180.90" width="2" height="2" fill="#0a0a0a"/><rect x="1184.35" y="180.90" width="2" height="2" fill="#0a0a0a"/><rect x="1190.26" y="180.90" width="2" height="2" fill="#0a0a0a"/><rect x="1196.17" y="180.90" width="2" height="2" fill="#0a0a0a"/><rect x="1202.08" y="180.90" width="2" height="2" fill="#0a0a0a"/><rect x="1207.99" y="180.90" width="2" height="2" fill="#0a0a0a"/><rect x="1213.90" y="180.90" width="2" height="2" fill="#0a0a0a"/><rect x="1219.81" y="180.90" width="2" height="2" fill="#0a0a0a"/><rect x="1225.72" y="180.90" width="2" height="2" fill="#0a0a0a"/><rect x="1231.64" y="180.90" width="2" height="2" fill="#0a0a0a"/><rect x="1237.55" y="180.90" width="2" height="2" fill="#0a0a0a"/><rect x="1243.46" y="180.90" width="2" height="2" fill="#0a0a0a"/><rect x="1249.37" y="180.90" width="2" height="2" fill="#0a0a0a"/><rect x="1255.28" y="180.90" width="2" height="2" fill="#0a0a0a"/><rect x="1261.19" y="180.90" width="2" height="2" fill="#0a0a0a"/><rect x="1267.10" y="180.90" width="2" height="2" fill="#0a0a0a"/><rect x="1273.01" y="180.90" width="2" height="2" fill="#0a0a0a"/><rect x="1278.93" y="180.90" width="2" height="2" fill="#0a0a0a"/><rect x="1284.84" y="180.90" width="2" height="2" fill="#0a0a0a"/><rect x="1290.75" y="180.90" width="2" height="2" fill="#0a0a0a"/><rect x="1296.66" y="180.90" width="2" height="2" fill="#0a0a0a"/><rect x="1302.57" y="180.90" width="2" height="2" fill="#0a0a0a"/><rect x="1308.48" y="180.90" width="2" height="2" fill="#0a0a0a"/><rect x="1314.39" y="180.90" width="2" height="2" fill="#0a0a0a"/><rect x="1320.30" y="180.90" width="2" height="2" fill="#0a0a0a"/>
<rect x="859.22" y="288.70" width="2" height="2" fill="#0a0a0a"/><rect x="865.13" y="288.70" width="2" height="2" fill="#0a0a0a"/><rect x="871.05" y="288.70" width="2" height="2" fill="#0a0a0a"/><rect x="876.96" y="288.70" width="2" height="2" fill="#0a0a0a"/><rect x="882.87" y="288.70" width="2" height="2" fill="#0a0a0a"/><rect x="888.78" y="288.70" width="2" height="2" fill="#0a0a0a"/><rect x="894.69" y="288.70" width="2" height="2" fill="#0a0a0a"/><rect x="900.60" y="288.70" width="2" height="2" fill="#0a0a0a"/><rect x="906.51" y="288.70" width="2" height="2" fill="#0a0a0a"/><rect x="912.43" y="288.70" width="2" height="2" fill="#0a0a0a"/><rect x="918.34" y="288.70" width="2" height="2" fill="#0a0a0a"/><rect x="924.25" y="288.70" width="2" height="2" fill="#0a0a0a"/><rect x="930.16" y="288.70" width="2" height="2" fill="#0a0a0a"/><rect x="936.07" y="288.70" width="2" height="2" fill="#0a0a0a"/><rect x="941.98" y="288.70" width="2" height="2" fill="#0a0a0a"/><rect x="947.89" y="288.70" width="2" height="2" fill="#0a0a0a"/><rect x="953.80" y="288.70" width="2" height="2" fill="#0a0a0a"/><rect x="959.72" y="288.70" width="2" height="2" fill="#0a0a0a"/><rect x="965.63" y="288.70" width="2" height="2" fill="#0a0a0a"/><rect x="971.54" y="288.70" width="2" height="2" fill="#0a0a0a"/><rect x="977.45" y="288.70" width="2" height="2" fill="#0a0a0a"/><rect x="983.36" y="288.70" width="2" height="2" fill="#0a0a0a"/><rect x="989.27" y="288.70" width="2" height="2" fill="#0a0a0a"/><rect x="995.18" y="288.70" width="2" height="2" fill="#0a0a0a"/><rect x="1001.09" y="288.70" width="2" height="2" fill="#0a0a0a"/><rect x="1007.01" y="288.70" width="2" height="2" fill="#0a0a0a"/><rect x="1012.92" y="288.70" width="2" height="2" fill="#0a0a0a"/><rect x="1018.83" y="288.70" width="2" height="2" fill="#0a0a0a"/><rect x="1024.74" y="288.70" width="2" height="2" fill="#0a0a0a"/><rect x="1030.65" y="288.70" width="2" height="2" fill="#0a0a0a"/><rect x="1036.56" y="288.70" width="2" height="2" fill="#0a0a0a"/><rect x="1042.47" y="288.70" width="2" height="2" fill="#0a0a0a"/><rect x="1048.39" y="288.70" width="2" height="2" fill="#0a0a0a"/><rect x="1054.30" y="288.70" width="2" height="2" fill="#0a0a0a"/><rect x="1060.21" y="288.70" width="2" height="2" fill="#0a0a0a"/><rect x="1066.12" y="288.70" width="2" height="2" fill="#0a0a0a"/><rect x="1072.03" y="288.70" width="2" height="2" fill="#0a0a0a"/><rect x="1077.94" y="288.70" width="2" height="2" fill="#0a0a0a"/><rect x="1083.85" y="288.70" width="2" height="2" fill="#0a0a0a"/><rect x="1089.76" y="288.70" width="2" height="2" fill="#0a0a0a"/><rect x="1095.68" y="288.70" width="2" height="2" fill="#0a0a0a"/><rect x="1101.59" y="288.70" width="2" height="2" fill="#0a0a0a"/><rect x="1107.50" y="288.70" width="2" height="2" fill="#0a0a0a"/><rect x="1113.41" y="288.70" width="2" height="2" fill="#0a0a0a"/><rect x="1119.32" y="288.70" width="2" height="2" fill="#0a0a0a"/><rect x="1125.23" y="288.70" width="2" height="2" fill="#0a0a0a"/><rect x="1131.14" y="288.70" width="2" height="2" fill="#0a0a0a"/><rect x="1137.05" y="288.70" width="2" height="2" fill="#0a0a0a"/><rect x="1142.97" y="288.70" width="2" height="2" fill="#0a0a0a"/><rect x="1148.88" y="288.70" width="2" height="2" fill="#0a0a0a"/><rect x="1154.79" y="288.70" width="2" height="2" fill="#0a0a0a"/><rect x="1160.70" y="288.70" width="2" height="2" fill="#0a0a0a"/><rect x="1166.61" y="288.70" width="2" height="2" fill="#0a0a0a"/><rect x="1172.52" y="288.70" width="2" height="2" fill="#0a0a0a"/><rect x="1178.43" y="288.70" width="2" height="2" fill="#0a0a0a"/><rect x="1184.35" y="288.70" width="2" height="2" fill="#0a0a0a"/><rect x="1190.26" y="288.70" width="2" height="2" fill="#0a0a0a"/><rect x="1196.17" y="288.70" width="2" height="2" fill="#0a0a0a"/><rect x="1202.08" y="288.70" width="2" height="2" fill="#0a0a0a"/><rect x="1207.99" y="288.70" width="2" height="2" fill="#0a0a0a"/><rect x="1213.90" y="288.70" width="2" height="2" fill="#0a0a0a"/><rect x="1219.81" y="288.70" width="2" height="2" fill="#0a0a0a"/><rect x="1225.72" y="288.70" width="2" height="2" fill="#0a0a0a"/><rect x="1231.64" y="288.70" width="2" height="2" fill="#0a0a0a"/><rect x="1237.55" y="288.70" width="2" height="2" fill="#0a0a0a"/><rect x="1243.46" y="288.70" width="2" height="2" fill="#0a0a0a"/><rect x="1249.37" y="288.70" width="2" height="2" fill="#0a0a0a"/><rect x="1255.28" y="288.70" width="2" height="2" fill="#0a0a0a"/><rect x="1261.19" y="288.70" width="2" height="2" fill="#0a0a0a"/><rect x="1267.10" y="288.70" width="2" height="2" fill="#0a0a0a"/><rect x="1273.01" y="288.70" width="2" height="2" fill="#0a0a0a"/><rect x="1278.93" y="288.70" width="2" height="2" fill="#0a0a0a"/><rect x="1284.84" y="288.70" width="2" height="2" fill="#0a0a0a"/><rect x="1290.75" y="288.70" width="2" height="2" fill="#0a0a0a"/><rect x="1296.66" y="288.70" width="2" height="2" fill="#0a0a0a"/><rect x="1302.57" y="288.70" width="2" height="2" fill="#0a0a0a"/><rect x="1308.48" y="288.70" width="2" height="2" fill="#0a0a0a"/><rect x="1314.39" y="288.70" width="2" height="2" fill="#0a0a0a"/><rect x="1320.30" y="288.70" width="2" height="2" fill="#0a0a0a"/><rect x="1326.22" y="288.70" width="2" height="2" fill="#0a0a0a"/><rect x="1332.13" y="288.70" width="2" height="2" fill="#0a0a0a"/><rect x="1338.04" y="288.70" width="2" height="2" fill="#0a0a0a"/><rect x="1343.95" y="288.70" width="2" height="2" fill="#0a0a0a"/><rect x="1349.86" y="288.70" width="2" height="2" fill="#0a0a0a"/><rect x="1355.77" y="288.70" width="2" height="2" fill="#0a0a0a"/>
<rect x="-2" y="591.0" width="3.1" height="9.8" fill="#000"/>
<rect x="1" y="595.4" width="1.7" height="1" fill="#222"/>
<rect x="6.21" y="582.0" width="1" height="14.3" fill="#2e2e2e"/>
<rect x="4.81" y="594.6" width="3.80" height="1.7" fill="#f7f7f9" stroke="#1c1c1c" stroke-width="0.9"/>
<rect x="12.18" y="586.6" width="1" height="8.0" fill="#2e2e2e"/>
<rect x="10.43" y="593.7" width="4.5" height="1.2" fill="#000"/>
<rect x="18.14" y="591.0" width="1" height="8.0" fill="#2e2e2e"/>
<rect x="16.39" y="593.7" width="4.5" height="2.0" fill="#000"/>
<rect x="24.11" y="591.0" width="1" height="5.3" fill="#2e2e2e"/>
<rect x="22.71" y="592.9" width="3.80" height="2.3" fill="#f7f7f9" stroke="#1c1c1c" stroke-width="0.9"/>
<rect x="30.07" y="590.5" width="1" height="3.8" fill="#2e2e2e"/>
<rect x="28.67" y="590.6" width="3.80" height="1.7" fill="#f7f7f9" stroke="#1c1c1c" stroke-width="0.9"/>
<rect x="36.03" y="590.0" width="1" height="16.6" fill="#2e2e2e"/>
<rect x="34.28" y="590.0" width="4.5" height="10.5" fill="#000"/>
<rect x="42.00" y="590.5" width="1" height="12.2" fill="#2e2e2e"/>
<rect x="40.60" y="591.0" width="3.80" height="9.1" fill="#f7f7f9" stroke="#1c1c1c" stroke-width="0.9"/>
<rect x="47.96" y="580.7" width="1" height="16.0" fill="#2e2e2e"/>
<rect x="46.56" y="582.2" width="3.80" height="8.1" fill="#f7f7f9" stroke="#1c1c1c" stroke-width="0.9"/>
<rect x="53.93" y="582.0" width="1" height="11.3" fill="#2e2e2e"/>
<rect x="52.18" y="582.0" width="4.5" height="5.6" fill="#000"/>
<rect x="59.89" y="577.3" width="1" height="15.5" fill="#2e2e2e"/>
<rect x="58.49" y="578.4" width="3.80" height="8.0" fill="#f7f7f9" stroke="#1c1c1c" stroke-width="0.9"/>
<rect x="65.85" y="570.8" width="1" height="23.5" fill="#2e2e2e"/>
<rect x="64.10" y="578.8" width="4.5" height="14.0" fill="#000"/>
<rect x="71.82" y="589.8" width="1" height="11.6" fill="#2e2e2e"/>
<rect x="70.07" y="592.4" width="4.5" height="1.2" fill="#000"/>
<rect x="77.78" y="572.0" width="1" height="23.6" fill="#2e2e2e"/>
<rect x="76.38" y="582.5" width="3.80" height="11.4" fill="#f7f7f9" stroke="#1c1c1c" stroke-width="0.9"/>
<rect x="83.75" y="576.2" width="1" height="19.7" fill="#2e2e2e"/>
<rect x="82.00" y="582.0" width="4.5" height="4.3" fill="#000"/>
<rect x="89.71" y="567.8" width="1" height="82.6" fill="#2e2e2e"/>
<rect x="87.96" y="586.0" width="4.5" height="14.0" fill="#000"/>
<rect x="95.67" y="586.8" width="1" height="43.7" fill="#2e2e2e"/>
<rect x="93.92" y="599.2" width="4.5" height="14.3" fill="#000"/>
<rect x="101.64" y="574.3" width="1" height="41.0" fill="#2e2e2e"/>
<rect x="100.24" y="581.9" width="3.80" height="31.4" fill="#f7f7f9" stroke="#1c1c1c" stroke-width="0.9"/>
<rect x="107.60" y="554.7" width="1" height="40.3" fill="#2e2e2e"/>
<rect x="106.20" y="560.2" width="3.80" height="21.0" fill="#f7f7f9" stroke="#1c1c1c" stroke-width="0.9"/>
<rect x="113.57" y="542.5" width="1" height="18.1" fill="#2e2e2e"/>
<rect x="112.17" y="554.2" width="3.80" height="6.0" fill="#f7f7f9" stroke="#1c1c1c" stroke-width="0.9"/>
<rect x="119.53" y="530.5" width="1" height="26.9" fill="#2e2e2e"/>
<rect x="117.78" y="554.6" width="4.5" height="2.8" fill="#000"/>
<rect x="125.49" y="556.9" width="1" height="17.8" fill="#2e2e2e"/>
<rect x="123.74" y="556.9" width="4.5" height="8.2" fill="#000"/>
<rect x="131.46" y="545.0" width="1" height="24.8" fill="#2e2e2e"/>
<rect x="129.71" y="566.1" width="4.5" height="1.2" fill="#000"/>
<rect x="137.42" y="548.3" width="1" height="19.5" fill="#2e2e2e"/>
<rect x="136.02" y="548.8" width="3.80" height="18.3" fill="#f7f7f9" stroke="#1c1c1c" stroke-width="0.9"/>
<rect x="143.39" y="545.7" width="1" height="11.7" fill="#2e2e2e"/>
<rect x="141.64" y="549.1" width="4.5" height="2.4" fill="#000"/>
<rect x="149.35" y="539.2" width="1" height="16.2" fill="#2e2e2e"/>
<rect x="147.95" y="540.4" width="3.80" height="10.7" fill="#f7f7f9" stroke="#1c1c1c" stroke-width="0.9"/>
<rect x="155.31" y="515.9" width="1" height="26.9" fill="#2e2e2e"/>
<rect x="153.91" y="522.0" width="3.80" height="18.1" fill="#f7f7f9" stroke="#1c1c1c" stroke-width="0.9"/>
<rect x="161.28" y="521.5" width="1" height="19.4" fill="#2e2e2e"/>
<rect x="159.53" y="521.5" width="4.5" height="12.5" fill="#000"/>
<rect x="167.24" y="501.0" width="1" height="33.3" fill="#2e2e2e"/>
<rect x="165.84" y="510.8" width="3.80" height="23.0" fill="#f7f7f9" stroke="#1c1c1c" stroke-width="0.9"/>
<rect x="173.21" y="503.0" width="1" height="30.0" fill="#2e2e2e"/>
<rect x="171.46" y="509.8" width="4.5" height="23.2" fill="#000"/>
<rect x="179.17" y="508.8" width="1" height="24.2" fill="#2e2e2e"/>
<rect x="177.77" y="522.0" width="3.80" height="10.6" fill="#f7f7f9" stroke="#1c1c1c" stroke-width="0.9"/>
<rect x="185.13" y="504.3" width="1" height="17.2" fill="#2e2e2e"/>
<rect x="183.73" y="506.6" width="3.80" height="14.4" fill="#f7f7f9" stroke="#1c1c1c" stroke-width="0.9"/>
<rect x="191.10" y="498.2" width="1" height="31.6" fill="#2e2e2e"/>
<rect x="189.35" y="506.0" width="4.5" height="17.7" fill="#000"/>
<rect x="197.06" y="518.9" width="1" height="18.8" fill="#2e2e2e"/>
<rect x="195.31" y="523.4" width="4.5" height="10.2" fill="#000"/>
<rect x="203.03" y="520.8" width="1" height="14.9" fill="#2e2e2e"/>
<rect x="201.63" y="530.0" width="3.80" height="3.2" fill="#f7f7f9" stroke="#1c1c1c" stroke-width="0.9"/>
<rect x="208.99" y="508.8" width="1" height="31.1" fill="#2e2e2e"/>
<rect x="207.59" y="513.8" width="3.80" height="15.3" fill="#f7f7f9" stroke="#1c1c1c" stroke-width="0.9"/>
<rect x="214.95" y="473.2" width="1" height="51.4" fill="#2e2e2e"/>
<rect x="213.55" y="494.8" width="3.80" height="17.1" fill="#f7f7f9" stroke="#1c1c1c" stroke-width="0.9"/>
<rect x="220.92" y="491.3" width="1" height="37.8" fill="#2e2e2e"/>
<rect x="219.17" y="495.2" width="4.5" height="31.3" fill="#000"/>
<rect x="226.88" y="519.4" width="1" height="16.6" fill="#2e2e2e"/>
<rect x="225.13" y="525.9" width="4.5" height="1.2" fill="#000"/>
<rect x="232.85" y="513.0" width="1" height="16.8" fill="#2e2e2e"/>
<rect x="231.45" y="524.6" width="3.80" height="1.7" fill="#f7f7f9" stroke="#1c1c1c" stroke-width="0.9"/>
<rect x="238.81" y="489.4" width="1" height="37.1" fill="#2e2e2e"/>
<rect x="237.41" y="489.8" width="3.80" height="34.0" fill="#f7f7f9" stroke="#1c1c1c" stroke-width="0.9"/>
<rect x="244.77" y="477.5" width="1" height="24.5" fill="#2e2e2e"/>
<rect x="243.37" y="485.3" width="3.80" height="3.6" fill="#f7f7f9" stroke="#1c1c1c" stroke-width="0.9"/>
<rect x="250.74" y="480.0" width="1" height="17.6" fill="#2e2e2e"/>
<rect x="249.34" y="483.1" width="3.80" height="1.7" fill="#f7f7f9" stroke="#1c1c1c" stroke-width="0.9"/>
<rect x="256.70" y="440.7" width="1" height="42.7" fill="#2e2e2e"/>
<rect x="255.30" y="445.1" width="3.80" height="37.9" fill="#f7f7f9" stroke="#1c1c1c" stroke-width="0.9"/>
<rect x="262.67" y="407.7" width="1" height="51.2" fill="#2e2e2e"/>
<rect x="261.27" y="414.1" width="3.80" height="30.7" fill="#f7f7f9" stroke="#1c1c1c" stroke-width="0.9"/>
<rect x="268.63" y="408.3" width="1" height="28.6" fill="#2e2e2e"/>
<rect x="266.88" y="413.7" width="4.5" height="16.7" fill="#000"/>
<rect x="274.59" y="382.8" width="1" height="47.6" fill="#2e2e2e"/>
<rect x="273.19" y="406.3" width="3.80" height="23.6" fill="#f7f7f9" stroke="#1c1c1c" stroke-width="0.9"/>
<rect x="280.56" y="383.0" width="1" height="33.5" fill="#2e2e2e"/>
<rect x="279.16" y="384.4" width="3.80" height="21.1" fill="#f7f7f9" stroke="#1c1c1c" stroke-width="0.9"/>
<rect x="286.52" y="359.0" width="1" height="42.5" fill="#2e2e2e"/>
<rect x="285.12" y="382.5" width="3.80" height="1.7" fill="#f7f7f9" stroke="#1c1c1c" stroke-width="0.9"/>
<rect x="292.49" y="359.8" width="1" height="48.9" fill="#2e2e2e"/>
<rect x="291.09" y="365.6" width="3.80" height="17.2" fill="#f7f7f9" stroke="#1c1c1c" stroke-width="0.9"/>
<rect x="298.45" y="336.7" width="1" height="36.0" fill="#2e2e2e"/>
<rect x="297.05" y="361.1" width="3.80" height="4.4" fill="#f7f7f9" stroke="#1c1c1c" stroke-width="0.9"/>
<rect x="304.41" y="360.0" width="1" height="32.4" fill="#2e2e2e"/>
<rect x="302.66" y="360.0" width="4.5" height="28.2" fill="#000"/>
<rect x="310.38" y="367.8" width="1" height="45.4" fill="#2e2e2e"/>
<rect x="308.98" y="380.9" width="3.80" height="5.9" fill="#f7f7f9" stroke="#1c1c1c" stroke-width="0.9"/>
<rect x="316.34" y="375.0" width="1" height="21.4" fill="#2e2e2e"/>
<rect x="314.59" y="381.0" width="4.5" height="3.3" fill="#000"/>
<rect x="322.31" y="378.9" width="1" height="19.4" fill="#2e2e2e"/>
<rect x="320.56" y="384.3" width="4.5" height="6.2" fill="#000"/>
<rect x="328.27" y="373.7" width="1" height="29.0" fill="#2e2e2e"/>
<rect x="326.52" y="389.9" width="4.5" height="1.2" fill="#000"/>
<rect x="334.23" y="371.7" width="1" height="42.4" fill="#2e2e2e"/>
<rect x="332.48" y="390.2" width="4.5" height="13.3" fill="#000"/>
<rect x="340.20" y="386.0" width="1" height="18.8" fill="#2e2e2e"/>
<rect x="338.80" y="400.9" width="3.80" height="2.3" fill="#f7f7f9" stroke="#1c1c1c" stroke-width="0.9"/>
<rect x="346.16" y="388.6" width="1" height="35.2" fill="#2e2e2e"/>
<rect x="344.41" y="400.8" width="4.5" height="17.8" fill="#000"/>
<rect x="352.13" y="405.0" width="1" height="16.8" fill="#2e2e2e"/>
<rect x="350.38" y="417.9" width="4.5" height="1.2" fill="#000"/>
<rect x="358.09" y="402.4" width="1" height="19.2" fill="#2e2e2e"/>
<rect x="356.69" y="410.4" width="3.80" height="7.1" fill="#f7f7f9" stroke="#1c1c1c" stroke-width="0.9"/>
<rect x="364.05" y="403.0" width="1" height="13.7" fill="#2e2e2e"/>
<rect x="362.65" y="407.9" width="3.80" height="1.7" fill="#f7f7f9" stroke="#1c1c1c" stroke-width="0.9"/>
<rect x="370.02" y="386.0" width="1" height="22.3" fill="#2e2e2e"/>
<rect x="368.62" y="403.9" width="3.80" height="3.9" fill="#f7f7f9" stroke="#1c1c1c" stroke-width="0.9"/>
<rect x="375.98" y="397.2" width="1" height="26.5" fill="#2e2e2e"/>
<rect x="374.23" y="404.2" width="4.5" height="12.1" fill="#000"/>
<rect x="381.95" y="412.4" width="1" height="23.3" fill="#2e2e2e"/>
<rect x="380.20" y="416.3" width="4.5" height="12.6" fill="#000"/>
<rect x="387.91" y="425.0" width="1" height="10.7" fill="#2e2e2e"/>
<rect x="386.16" y="428.6" width="4.5" height="1.2" fill="#000"/>
<rect x="393.87" y="420.2" width="1" height="24.6" fill="#2e2e2e"/>
<rect x="392.12" y="429.8" width="4.5" height="3.2" fill="#000"/>
<rect x="399.84" y="425.6" width="1" height="8.4" fill="#2e2e2e"/>
<rect x="398.44" y="427.8" width="3.80" height="5.2" fill="#f7f7f9" stroke="#1c1c1c" stroke-width="0.9"/>
<rect x="405.80" y="419.5" width="1" height="15.8" fill="#2e2e2e"/>
<rect x="404.05" y="427.6" width="4.5" height="7.4" fill="#000"/>
<rect x="411.77" y="433.4" width="1" height="6.8" fill="#2e2e2e"/>
<rect x="410.37" y="433.2" width="3.80" height="1.7" fill="#f7f7f9" stroke="#1c1c1c" stroke-width="0.9"/>
<rect x="417.73" y="430.5" width="1" height="7.0" fill="#2e2e2e"/>
<rect x="415.98" y="432.8" width="4.5" height="1.2" fill="#000"/>
<rect x="423.69" y="433.0" width="1" height="14.6" fill="#2e2e2e"/>
<rect x="421.94" y="434.0" width="4.5" height="10.4" fill="#000"/>
<rect x="429.66" y="433.0" width="1" height="13.3" fill="#2e2e2e"/>
<rect x="428.26" y="437.1" width="3.80" height="6.9" fill="#f7f7f9" stroke="#1c1c1c" stroke-width="0.9"/>
<rect x="435.62" y="434.0" width="1" height="7.4" fill="#2e2e2e"/>
<rect x="434.22" y="435.3" width="3.80" height="1.7" fill="#f7f7f9" stroke="#1c1c1c" stroke-width="0.9"/>
<rect x="441.59" y="429.5" width="1" height="6.9" fill="#2e2e2e"/>
<rect x="439.84" y="435.4" width="4.5" height="1.2" fill="#000"/>
<rect x="447.55" y="427.6" width="1" height="12.6" fill="#2e2e2e"/>
<rect x="446.15" y="431.8" width="3.80" height="3.4" fill="#f7f7f9" stroke="#1c1c1c" stroke-width="0.9"/>
<rect x="453.51" y="425.0" width="1" height="7.7" fill="#2e2e2e"/>
<rect x="452.11" y="429.6" width="3.80" height="1.7" fill="#f7f7f9" stroke="#1c1c1c" stroke-width="0.9"/>
<rect x="459.48" y="423.0" width="1" height="8.4" fill="#2e2e2e"/>
<rect x="458.08" y="428.1" width="3.80" height="2.3" fill="#f7f7f9" stroke="#1c1c1c" stroke-width="0.9"/>
<rect x="465.44" y="400.4" width="1" height="32.1" fill="#2e2e2e"/>
<rect x="464.04" y="408.3" width="3.80" height="18.8" fill="#f7f7f9" stroke="#1c1c1c" stroke-width="0.9"/>
<rect x="471.41" y="395.2" width="1" height="20.3" fill="#2e2e2e"/>
<rect x="470.01" y="404.8" width="3.80" height="3.3" fill="#f7f7f9" stroke="#1c1c1c" stroke-width="0.9"/>
<rect x="477.37" y="381.4" width="1" height="45.5" fill="#2e2e2e"/>
<rect x="475.62" y="404.7" width="4.5" height="10.8" fill="#000"/>
<rect x="483.33" y="411.8" width="1" height="30.6" fill="#2e2e2e"/>
<rect x="481.58" y="416.3" width="4.5" height="7.4" fill="#000"/>
<rect x="489.30" y="421.7" width="1" height="24.6" fill="#2e2e2e"/>
<rect x="487.55" y="423.4" width="4.5" height="18.8" fill="#000"/>
<rect x="495.26" y="426.9" width="1" height="30.0" fill="#2e2e2e"/>
<rect x="493.51" y="442.2" width="4.5" height="1.2" fill="#000"/>
<rect x="501.23" y="425.6" width="1" height="23.1" fill="#2e2e2e"/>
<rect x="499.83" y="433.4" width="3.80" height="9.6" fill="#f7f7f9" stroke="#1c1c1c" stroke-width="0.9"/>
<rect x="507.19" y="402.0" width="1" height="37.6" fill="#2e2e2e"/>
<rect x="505.79" y="410.2" width="3.80" height="21.8" fill="#f7f7f9" stroke="#1c1c1c" stroke-width="0.9"/>
<rect x="513.15" y="409.8" width="1" height="29.0" fill="#2e2e2e"/>
<rect x="511.40" y="409.8" width="4.5" height="25.8" fill="#000"/>
<rect x="519.12" y="432.0" width="1" height="6.3" fill="#2e2e2e"/>
<rect x="517.37" y="433.7" width="4.5" height="1.2" fill="#000"/>
<rect x="525.08" y="428.5" width="1" height="19.8" fill="#2e2e2e"/>
<rect x="523.68" y="433.0" width="3.80" height="1.7" fill="#f7f7f9" stroke="#1c1c1c" stroke-width="0.9"/>
<rect x="531.05" y="430.2" width="1" height="10.5" fill="#2e2e2e"/>
<rect x="529.30" y="432.4" width="4.5" height="7.3" fill="#000"/>
<rect x="537.01" y="426.4" width="1" height="14.1" fill="#2e2e2e"/>
<rect x="535.61" y="429.3" width="3.80" height="9.8" fill="#f7f7f9" stroke="#1c1c1c" stroke-width="0.9"/>
<rect x="542.97" y="424.5" width="1" height="9.7" fill="#2e2e2e"/>
<rect x="541.22" y="428.3" width="4.5" height="2.0" fill="#000"/>
<rect x="548.94" y="415.7" width="1" height="18.5" fill="#2e2e2e"/>
<rect x="547.54" y="418.8" width="3.80" height="11.0" fill="#f7f7f9" stroke="#1c1c1c" stroke-width="0.9"/>
<rect x="554.90" y="418.3" width="1" height="19.8" fill="#2e2e2e"/>
<rect x="553.15" y="418.3" width="4.5" height="16.5" fill="#000"/>
<rect x="560.87" y="421.5" width="1" height="13.9" fill="#2e2e2e"/>
<rect x="559.47" y="429.8" width="3.80" height="4.9" fill="#f7f7f9" stroke="#1c1c1c" stroke-width="0.9"/>
<rect x="566.83" y="426.4" width="1" height="10.0" fill="#2e2e2e"/>
<rect x="565.08" y="429.0" width="4.5" height="6.8" fill="#000"/>
<rect x="572.79" y="431.2" width="1" height="9.1" fill="#2e2e2e"/>
<rect x="571.04" y="435.4" width="4.5" height="2.0" fill="#000"/>
<rect x="578.76" y="424.5" width="1" height="13.2" fill="#2e2e2e"/>
<rect x="577.36" y="432.1" width="3.80" height="4.9" fill="#f7f7f9" stroke="#1c1c1c" stroke-width="0.9"/>
<rect x="584.72" y="432.3" width="1" height="27.0" fill="#2e2e2e"/>
<rect x="582.97" y="432.3" width="4.5" height="21.6" fill="#000"/>
<rect x="590.69" y="453.2" width="1" height="14.5" fill="#2e2e2e"/>
<rect x="588.94" y="453.9" width="4.5" height="11.6" fill="#000"/>
<rect x="596.65" y="441.3" width="1" height="24.2" fill="#2e2e2e"/>
<rect x="595.25" y="452.3" width="3.80" height="12.7" fill="#f7f7f9" stroke="#1c1c1c" stroke-width="0.9"/>
<rect x="602.61" y="418.5" width="1" height="33.4" fill="#2e2e2e"/>
<rect x="601.21" y="424.9" width="3.80" height="26.5" fill="#f7f7f9" stroke="#1c1c1c" stroke-width="0.9"/>
<rect x="608.58" y="412.5" width="1" height="21.1" fill="#2e2e2e"/>
<rect x="607.18" y="419.8" width="3.80" height="4.3" fill="#f7f7f9" stroke="#1c1c1c" stroke-width="0.9"/>
<rect x="614.54" y="413.1" width="1" height="17.9" fill="#2e2e2e"/>
<rect x="612.79" y="418.3" width="4.5" height="4.5" fill="#000"/>
<rect x="620.51" y="418.3" width="1" height="30.4" fill="#2e2e2e"/>
<rect x="618.76" y="422.8" width="4.5" height="25.9" fill="#000"/>
<rect x="626.47" y="443.5" width="1" height="23.9" fill="#2e2e2e"/>
<rect x="624.72" y="448.4" width="4.5" height="1.2" fill="#000"/>
<rect x="632.43" y="444.8" width="1" height="8.2" fill="#2e2e2e"/>
<rect x="630.68" y="450.0" width="4.5" height="2.0" fill="#000"/>
<rect x="638.40" y="441.3" width="1" height="44.9" fill="#2e2e2e"/>
<rect x="636.65" y="452.3" width="4.5" height="26.1" fill="#000"/>
<rect x="644.36" y="469.8" width="1" height="9.5" fill="#2e2e2e"/>
<rect x="642.96" y="475.6" width="3.80" height="3.2" fill="#f7f7f9" stroke="#1c1c1c" stroke-width="0.9"/>
<rect x="650.33" y="456.8" width="1" height="32.6" fill="#2e2e2e"/>
<rect x="648.93" y="458.6" width="3.80" height="16.0" fill="#f7f7f9" stroke="#1c1c1c" stroke-width="0.9"/>
<rect x="656.29" y="454.5" width="1" height="20.1" fill="#2e2e2e"/>
<rect x="654.54" y="458.4" width="4.5" height="14.6" fill="#000"/>
<rect x="662.25" y="469.8" width="1" height="7.1" fill="#2e2e2e"/>
<rect x="660.50" y="473.0" width="4.5" height="3.5" fill="#000"/>
<rect x="668.22" y="460.3" width="1" height="19.4" fill="#2e2e2e"/>
<rect x="666.82" y="460.8" width="3.80" height="14.7" fill="#f7f7f9" stroke="#1c1c1c" stroke-width="0.9"/>
<rect x="674.18" y="448.7" width="1" height="17.8" fill="#2e2e2e"/>
<rect x="672.78" y="458.6" width="3.80" height="1.7" fill="#f7f7f9" stroke="#1c1c1c" stroke-width="0.9"/>
<rect x="680.15" y="436.6" width="1" height="22.8" fill="#2e2e2e"/>
<rect x="678.75" y="448.2" width="3.80" height="9.9" fill="#f7f7f9" stroke="#1c1c1c" stroke-width="0.9"/>
<rect x="686.11" y="445.3" width="1" height="17.0" fill="#2e2e2e"/>
<rect x="684.36" y="448.1" width="4.5" height="10.4" fill="#000"/>
<rect x="692.07" y="456.5" width="1" height="9.1" fill="#2e2e2e"/>
<rect x="690.32" y="458.9" width="4.5" height="1.2" fill="#000"/>
<rect x="698.04" y="450.7" width="1" height="10.3" fill="#2e2e2e"/>
<rect x="696.64" y="455.9" width="3.80" height="4.3" fill="#f7f7f9" stroke="#1c1c1c" stroke-width="0.9"/>
<rect x="704.00" y="454.0" width="1" height="12.6" fill="#2e2e2e"/>
<rect x="702.25" y="455.2" width="4.5" height="7.1" fill="#000"/>
<rect x="709.97" y="458.5" width="1" height="6.5" fill="#2e2e2e"/>
<rect x="708.22" y="462.6" width="4.5" height="2.0" fill="#000"/>
<rect x="715.93" y="463.0" width="1" height="7.1" fill="#2e2e2e"/>
<rect x="714.18" y="465.0" width="4.5" height="4.8" fill="#000"/>
<rect x="721.89" y="461.0" width="1" height="10.4" fill="#2e2e2e"/>
<rect x="720.49" y="462.6" width="3.80" height="6.8" fill="#f7f7f9" stroke="#1c1c1c" stroke-width="0.9"/>
<rect x="727.86" y="452.0" width="1" height="20.7" fill="#2e2e2e"/>
<rect x="726.11" y="462.3" width="4.5" height="10.1" fill="#000"/>
<rect x="733.82" y="457.2" width="1" height="17.2" fill="#2e2e2e"/>
<rect x="732.42" y="464.3" width="3.80" height="7.9" fill="#f7f7f9" stroke="#1c1c1c" stroke-width="0.9"/>
<rect x="739.79" y="460.4" width="1" height="28.5" fill="#2e2e2e"/>
<rect x="738.04" y="463.6" width="4.5" height="11.9" fill="#000"/>
<rect x="745.75" y="471.7" width="1" height="31.8" fill="#2e2e2e"/>
<rect x="744.00" y="475.5" width="4.5" height="17.9" fill="#000"/>
<rect x="751.71" y="475.0" width="1" height="18.4" fill="#2e2e2e"/>
<rect x="750.31" y="475.4" width="3.80" height="17.5" fill="#f7f7f9" stroke="#1c1c1c" stroke-width="0.9"/>
<rect x="757.68" y="455.2" width="1" height="24.0" fill="#2e2e2e"/>
<rect x="756.28" y="460.8" width="3.80" height="13.7" fill="#f7f7f9" stroke="#1c1c1c" stroke-width="0.9"/>
<rect x="763.64" y="434.5" width="1" height="46.0" fill="#2e2e2e"/>
<rect x="761.89" y="460.4" width="4.5" height="19.8" fill="#000"/>
<rect x="769.61" y="465.2" width="1" height="73.1" fill="#2e2e2e"/>
<rect x="767.86" y="480.1" width="4.5" height="16.5" fill="#000"/>
<rect x="775.57" y="446.6" width="1" height="57.9" fill="#2e2e2e"/>
<rect x="774.17" y="463.8" width="3.80" height="32.4" fill="#f7f7f9" stroke="#1c1c1c" stroke-width="0.9"/>
<rect x="781.53" y="414.0" width="1" height="56.5" fill="#2e2e2e"/>
<rect x="780.13" y="429.9" width="3.80" height="33.1" fill="#f7f7f9" stroke="#1c1c1c" stroke-width="0.9"/>
<rect x="787.50" y="405.3" width="1" height="31.4" fill="#2e2e2e"/>
<rect x="786.10" y="408.4" width="3.80" height="20.6" fill="#f7f7f9" stroke="#1c1c1c" stroke-width="0.9"/>
<rect x="793.46" y="384.2" width="1" height="32.1" fill="#2e2e2e"/>
<rect x="792.06" y="400.3" width="3.80" height="7.5" fill="#f7f7f9" stroke="#1c1c1c" stroke-width="0.9"/>
<rect x="799.43" y="291.3" width="1" height="115.2" fill="#2e2e2e"/>
<rect x="798.03" y="295.6" width="3.80" height="104.3" fill="#f7f7f9" stroke="#1c1c1c" stroke-width="0.9"/>
<rect x="805.39" y="268.8" width="1" height="51.8" fill="#2e2e2e"/>
<rect x="803.99" y="292.6" width="3.80" height="2.2" fill="#f7f7f9" stroke="#1c1c1c" stroke-width="0.9"/>
<rect x="811.35" y="230.4" width="1" height="61.7" fill="#2e2e2e"/>
<rect x="809.95" y="254.2" width="3.80" height="37.4" fill="#f7f7f9" stroke="#1c1c1c" stroke-width="0.9"/>
<rect x="817.32" y="232.4" width="1" height="46.8" fill="#2e2e2e"/>
<rect x="815.57" y="253.8" width="4.5" height="8.5" fill="#000"/>
<rect x="823.28" y="223.6" width="1" height="38.7" fill="#2e2e2e"/>
<rect x="821.88" y="226.0" width="3.80" height="35.8" fill="#f7f7f9" stroke="#1c1c1c" stroke-width="0.9"/>
<rect x="829.25" y="199.3" width="1" height="44.7" fill="#2e2e2e"/>
<rect x="827.85" y="201.0" width="3.80" height="24.4" fill="#f7f7f9" stroke="#1c1c1c" stroke-width="0.9"/>
<rect x="835.21" y="198.7" width="1" height="38.4" fill="#2e2e2e"/>
<rect x="833.46" y="200.6" width="4.5" height="30.4" fill="#000"/>
<rect x="841.17" y="217.8" width="1" height="28.2" fill="#2e2e2e"/>
<rect x="839.77" y="218.2" width="3.80" height="12.3" fill="#f7f7f9" stroke="#1c1c1c" stroke-width="0.9"/>
<rect x="847.14" y="197.4" width="1" height="62.9" fill="#2e2e2e"/>
<rect x="845.39" y="218.2" width="4.5" height="28.4" fill="#000"/>
<rect x="853.10" y="234.8" width="1" height="46.4" fill="#2e2e2e"/>
<rect x="851.35" y="246.7" width="4.5" height="17.8" fill="#000"/>
<rect x="859.07" y="255.0" width="1" height="34.6" fill="#2e2e2e"/>
<rect x="857.32" y="264.8" width="4.5" height="6.8" fill="#000"/>
<rect x="865.03" y="234.0" width="1" height="37.6" fill="#2e2e2e"/>
<rect x="863.63" y="246.4" width="3.80" height="24.7" fill="#f7f7f9" stroke="#1c1c1c" stroke-width="0.9"/>
<rect x="870.99" y="221.1" width="1" height="33.4" fill="#2e2e2e"/>
<rect x="869.59" y="227.6" width="3.80" height="17.9" fill="#f7f7f9" stroke="#1c1c1c" stroke-width="0.9"/>
<rect x="876.96" y="171.1" width="1" height="62.1" fill="#2e2e2e"/>
<rect x="875.56" y="182.3" width="3.80" height="44.4" fill="#f7f7f9" stroke="#1c1c1c" stroke-width="0.9"/>
<rect x="882.92" y="177.1" width="1" height="37.1" fill="#2e2e2e"/>
<rect x="881.17" y="181.9" width="4.5" height="29.7" fill="#000"/>
<rect x="888.89" y="211.2" width="1" height="31.8" fill="#2e2e2e"/>
<rect x="887.14" y="211.2" width="4.5" height="19.9" fill="#000"/>
<rect x="894.85" y="223.8" width="1" height="12.6" fill="#2e2e2e"/>
<rect x="893.10" y="230.0" width="4.5" height="1.2" fill="#000"/>
<rect x="900.81" y="214.5" width="1" height="32.2" fill="#2e2e2e"/>
<rect x="899.41" y="223.8" width="3.80" height="6.1" fill="#f7f7f9" stroke="#1c1c1c" stroke-width="0.9"/>
<rect x="906.78" y="204.8" width="1" height="41.9" fill="#2e2e2e"/>
<rect x="905.03" y="224.2" width="4.5" height="19.3" fill="#000"/>
<rect x="912.74" y="227.8" width="1" height="28.3" fill="#2e2e2e"/>
<rect x="911.34" y="233.9" width="3.80" height="8.7" fill="#f7f7f9" stroke="#1c1c1c" stroke-width="0.9"/>
<rect x="918.71" y="231.7" width="1" height="19.3" fill="#2e2e2e"/>
<rect x="916.96" y="233.7" width="4.5" height="6.8" fill="#000"/>
<rect x="924.67" y="175.0" width="1" height="74.7" fill="#2e2e2e"/>
<rect x="923.27" y="212.9" width="3.80" height="26.9" fill="#f7f7f9" stroke="#1c1c1c" stroke-width="0.9"/>
<rect x="930.63" y="152.1" width="1" height="67.6" fill="#2e2e2e"/>
<rect x="929.23" y="201.9" width="3.80" height="10.8" fill="#f7f7f9" stroke="#1c1c1c" stroke-width="0.9"/>
<rect x="936.60" y="200.9" width="1" height="28.7" fill="#2e2e2e"/>
<rect x="934.85" y="200.9" width="4.5" height="21.6" fill="#000"/>
<rect x="942.56" y="213.2" width="1" height="30.3" fill="#2e2e2e"/>
<rect x="940.81" y="223.1" width="4.5" height="15.7" fill="#000"/>
<rect x="948.53" y="226.3" width="1" height="25.3" fill="#2e2e2e"/>
<rect x="946.78" y="238.2" width="4.5" height="7.6" fill="#000"/>
<rect x="954.49" y="233.5" width="1" height="46.2" fill="#2e2e2e"/>
<rect x="952.74" y="245.0" width="4.5" height="25.0" fill="#000"/>
<rect x="960.45" y="256.1" width="1" height="18.4" fill="#2e2e2e"/>
<rect x="958.70" y="270.0" width="4.5" height="2.6" fill="#000"/>
<rect x="966.42" y="254.8" width="1" height="19.1" fill="#2e2e2e"/>
<rect x="965.02" y="264.6" width="3.80" height="7.5" fill="#f7f7f9" stroke="#1c1c1c" stroke-width="0.9"/>
<rect x="972.38" y="255.4" width="1" height="9.4" fill="#2e2e2e"/>
<rect x="970.98" y="260.4" width="3.80" height="3.3" fill="#f7f7f9" stroke="#1c1c1c" stroke-width="0.9"/>
<rect x="978.35" y="241.5" width="1" height="21.4" fill="#2e2e2e"/>
<rect x="976.95" y="254.0" width="3.80" height="5.8" fill="#f7f7f9" stroke="#1c1c1c" stroke-width="0.9"/>
<rect x="984.31" y="248.4" width="1" height="15.5" fill="#2e2e2e"/>
<rect x="982.91" y="248.8" width="3.80" height="4.3" fill="#f7f7f9" stroke="#1c1c1c" stroke-width="0.9"/>
<rect x="990.27" y="248.4" width="1" height="23.5" fill="#2e2e2e"/>
<rect x="988.52" y="248.4" width="4.5" height="14.2" fill="#000"/>
<rect x="996.24" y="259.0" width="1" height="9.0" fill="#2e2e2e"/>
<rect x="994.49" y="262.9" width="4.5" height="2.9" fill="#000"/>
<rect x="1002.20" y="264.5" width="1" height="16.8" fill="#2e2e2e"/>
<rect x="1000.45" y="266.0" width="4.5" height="9.5" fill="#000"/>
<rect x="1008.17" y="269.6" width="1" height="12.3" fill="#2e2e2e"/>
<rect x="1006.77" y="271.9" width="3.80" height="3.4" fill="#f7f7f9" stroke="#1c1c1c" stroke-width="0.9"/>
<rect x="1014.13" y="271.3" width="1" height="6.1" fill="#2e2e2e"/>
<rect x="1012.38" y="272.6" width="4.5" height="3.2" fill="#000"/>
<rect x="1020.09" y="273.5" width="1" height="12.3" fill="#2e2e2e"/>
<rect x="1018.34" y="275.8" width="4.5" height="6.5" fill="#000"/>
<rect x="1026.06" y="282.3" width="1" height="27.4" fill="#2e2e2e"/>
<rect x="1024.31" y="282.3" width="4.5" height="23.6" fill="#000"/>
<rect x="1032.02" y="304.6" width="1" height="8.4" fill="#2e2e2e"/>
<rect x="1030.27" y="305.5" width="4.5" height="3.8" fill="#000"/>
<rect x="1037.99" y="289.0" width="1" height="23.6" fill="#2e2e2e"/>
<rect x="1036.59" y="297.2" width="3.80" height="11.6" fill="#f7f7f9" stroke="#1c1c1c" stroke-width="0.9"/>
<rect x="1043.95" y="286.4" width="1" height="14.5" fill="#2e2e2e"/>
<rect x="1042.55" y="295.0" width="3.80" height="1.7" fill="#f7f7f9" stroke="#1c1c1c" stroke-width="0.9"/>
<rect x="1049.91" y="245.4" width="1" height="58.9" fill="#2e2e2e"/>
<rect x="1048.51" y="273.8" width="3.80" height="20.3" fill="#f7f7f9" stroke="#1c1c1c" stroke-width="0.9"/>
<rect x="1055.88" y="246.0" width="1" height="32.0" fill="#2e2e2e"/>
<rect x="1054.48" y="269.8" width="3.80" height="3.2" fill="#f7f7f9" stroke="#1c1c1c" stroke-width="0.9"/>
<rect x="1061.84" y="258.0" width="1" height="30.4" fill="#2e2e2e"/>
<rect x="1060.09" y="269.4" width="4.5" height="1.2" fill="#000"/>
<rect x="1067.81" y="258.4" width="1" height="24.8" fill="#2e2e2e"/>
<rect x="1066.06" y="270.3" width="4.5" height="9.7" fill="#000"/>
<rect x="1073.77" y="264.5" width="1" height="24.9" fill="#2e2e2e"/>
<rect x="1072.37" y="264.9" width="3.80" height="13.9" fill="#f7f7f9" stroke="#1c1c1c" stroke-width="0.9"/>
<rect x="1079.73" y="253.2" width="1" height="22.3" fill="#2e2e2e"/>
<rect x="1077.98" y="265.4" width="4.5" height="8.5" fill="#000"/>
<rect x="1085.70" y="272.9" width="1" height="22.2" fill="#2e2e2e"/>
<rect x="1083.95" y="273.9" width="4.5" height="8.4" fill="#000"/>
<rect x="1091.66" y="254.1" width="1" height="28.2" fill="#2e2e2e"/>
<rect x="1090.26" y="256.8" width="3.80" height="25.0" fill="#f7f7f9" stroke="#1c1c1c" stroke-width="0.9"/>
<rect x="1097.63" y="244.1" width="1" height="24.9" fill="#2e2e2e"/>
<rect x="1096.23" y="253.9" width="3.80" height="2.6" fill="#f7f7f9" stroke="#1c1c1c" stroke-width="0.9"/>
<rect x="1103.59" y="216.9" width="1" height="37.5" fill="#2e2e2e"/>
<rect x="1102.19" y="220.8" width="3.80" height="31.9" fill="#f7f7f9" stroke="#1c1c1c" stroke-width="0.9"/>
<rect x="1109.55" y="214.6" width="1" height="30.9" fill="#2e2e2e"/>
<rect x="1107.80" y="220.4" width="4.5" height="18.0" fill="#000"/>
<rect x="1115.52" y="234.3" width="1" height="16.1" fill="#2e2e2e"/>
<rect x="1113.77" y="237.5" width="4.5" height="10.1" fill="#000"/>
<rect x="1121.48" y="219.1" width="1" height="37.3" fill="#2e2e2e"/>
<rect x="1120.08" y="234.8" width="3.80" height="13.1" fill="#f7f7f9" stroke="#1c1c1c" stroke-width="0.9"/>
<rect x="1127.45" y="226.0" width="1" height="40.4" fill="#2e2e2e"/>
<rect x="1125.70" y="235.0" width="4.5" height="26.9" fill="#000"/>
<rect x="1133.41" y="224.3" width="1" height="50.5" fill="#2e2e2e"/>
<rect x="1132.01" y="226.8" width="3.80" height="34.9" fill="#f7f7f9" stroke="#1c1c1c" stroke-width="0.9"/>
<rect x="1139.37" y="206.3" width="1" height="37.5" fill="#2e2e2e"/>
<rect x="1137.97" y="208.5" width="3.80" height="17.6" fill="#f7f7f9" stroke="#1c1c1c" stroke-width="0.9"/>
<rect x="1145.34" y="203.7" width="1" height="84.3" fill="#2e2e2e"/>
<rect x="1143.59" y="208.1" width="4.5" height="57.3" fill="#000"/>
<rect x="1151.30" y="246.8" width="1" height="28.0" fill="#2e2e2e"/>
<rect x="1149.90" y="261.9" width="3.80" height="3.0" fill="#f7f7f9" stroke="#1c1c1c" stroke-width="0.9"/>
<rect x="1157.27" y="188.2" width="1" height="83.6" fill="#2e2e2e"/>
<rect x="1155.87" y="196.9" width="3.80" height="63.8" fill="#f7f7f9" stroke="#1c1c1c" stroke-width="0.9"/>
<rect x="1163.23" y="175.8" width="1" height="31.0" fill="#2e2e2e"/>
<rect x="1161.83" y="194.1" width="3.80" height="1.7" fill="#f7f7f9" stroke="#1c1c1c" stroke-width="0.9"/>
<rect x="1169.19" y="188.5" width="1" height="46.3" fill="#2e2e2e"/>
<rect x="1167.44" y="193.9" width="4.5" height="37.3" fill="#000"/>
<rect x="1175.16" y="185.9" width="1" height="45.3" fill="#2e2e2e"/>
<rect x="1173.76" y="187.3" width="3.80" height="43.4" fill="#f7f7f9" stroke="#1c1c1c" stroke-width="0.9"/>
<rect x="1181.12" y="176.4" width="1" height="20.2" fill="#2e2e2e"/>
<rect x="1179.72" y="183.8" width="3.80" height="3.0" fill="#f7f7f9" stroke="#1c1c1c" stroke-width="0.9"/>
<text x="1366.7" y="42.2" font-size="7.5" fill="#505050" textLength="15.4" lengthAdjust="spacingAndGlyphs">7.80</text>
<text x="1366.7" y="64.9" font-size="7.5" fill="#505050" textLength="15.4" lengthAdjust="spacingAndGlyphs">7.70</text>
<text x="1366.7" y="87.6" font-size="7.5" fill="#505050" textLength="15.4" lengthAdjust="spacingAndGlyphs">7.60</text>
<text x="1366.7" y="110.3" font-size="7.5" fill="#505050" textLength="15.4" lengthAdjust="spacingAndGlyphs">7.50</text>
<text x="1366.7" y="133.0" font-size="7.5" fill="#505050" textLength="15.4" lengthAdjust="spacingAndGlyphs">7.40</text>
<text x="1366.7" y="155.7" font-size="7.5" fill="#505050" textLength="15.4" lengthAdjust="spacingAndGlyphs">7.30</text>
<text x="1366.7" y="178.4" font-size="7.5" fill="#505050" textLength="15.4" lengthAdjust="spacingAndGlyphs">7.20</text>
<text x="1366.7" y="201.1" font-size="7.5" fill="#505050" textLength="15.4" lengthAdjust="spacingAndGlyphs">7.10</text>
<text x="1366.7" y="223.8" font-size="7.5" fill="#505050" textLength="15.4" lengthAdjust="spacingAndGlyphs">7.00</text>
<text x="1366.7" y="246.5" font-size="7.5" fill="#505050" textLength="15.4" lengthAdjust="spacingAndGlyphs">6.90</text>
<text x="1366.7" y="269.2" font-size="7.5" fill="#505050" textLength="15.4" lengthAdjust="spacingAndGlyphs">6.80</text>
<text x="1366.7" y="291.9" font-size="7.5" fill="#505050" textLength="15.4" lengthAdjust="spacingAndGlyphs">6.70</text>
<text x="1366.7" y="314.6" font-size="7.5" fill="#505050" textLength="15.4" lengthAdjust="spacingAndGlyphs">6.60</text>
<text x="1366.7" y="337.3" font-size="7.5" fill="#505050" textLength="15.4" lengthAdjust="spacingAndGlyphs">6.50</text>
<text x="1366.7" y="360.0" font-size="7.5" fill="#505050" textLength="15.4" lengthAdjust="spacingAndGlyphs">6.40</text>
<text x="1366.7" y="382.7" font-size="7.5" fill="#505050" textLength="15.4" lengthAdjust="spacingAndGlyphs">6.30</text>
<text x="1366.7" y="405.4" font-size="7.5" fill="#505050" textLength="15.4" lengthAdjust="spacingAndGlyphs">6.20</text>
<text x="1366.7" y="428.1" font-size="7.5" fill="#505050" textLength="15.4" lengthAdjust="spacingAndGlyphs">6.10</text>
<text x="1366.7" y="450.8" font-size="7.5" fill="#505050" textLength="15.4" lengthAdjust="spacingAndGlyphs">6.00</text>
<text x="1366.7" y="473.5" font-size="7.5" fill="#505050" textLength="15.4" lengthAdjust="spacingAndGlyphs">5.90</text>
<text x="1366.7" y="496.2" font-size="7.5" fill="#505050" textLength="15.4" lengthAdjust="spacingAndGlyphs">5.80</text>
<text x="1366.7" y="518.9" font-size="7.5" fill="#505050" textLength="15.4" lengthAdjust="spacingAndGlyphs">5.70</text>
<text x="1366.7" y="541.6" font-size="7.5" fill="#505050" textLength="15.4" lengthAdjust="spacingAndGlyphs">5.60</text>
<text x="1366.7" y="564.3" font-size="7.5" fill="#505050" textLength="15.4" lengthAdjust="spacingAndGlyphs">5.50</text>
<text x="1366.7" y="587.0" font-size="7.5" fill="#505050" textLength="15.4" lengthAdjust="spacingAndGlyphs">5.40</text>
<text x="1366.7" y="609.7" font-size="7.5" fill="#505050" textLength="15.4" lengthAdjust="spacingAndGlyphs">5.30</text>
<text x="1366.7" y="632.4" font-size="7.5" fill="#505050" textLength="15.4" lengthAdjust="spacingAndGlyphs">5.20</text>
<text x="1366.7" y="655.1" font-size="7.5" fill="#505050" textLength="15.4" lengthAdjust="spacingAndGlyphs">5.10</text>
<text x="1366.7" y="677.8" font-size="7.5" fill="#505050" textLength="15.4" lengthAdjust="spacingAndGlyphs">5.00</text>
<text x="1366.7" y="700.5" font-size="7.5" fill="#505050" textLength="15.4" lengthAdjust="spacingAndGlyphs">4.90</text>
<text x="1366.7" y="723.2" font-size="7.5" fill="#505050" textLength="15.4" lengthAdjust="spacingAndGlyphs">4.80</text>
<rect x="1363.5" y="18.5" width="20" height="21.8" fill="#fff"/>
<rect x="1364.4" y="20.3" width="22" height="17" rx="2.5" fill="#fff" stroke="#e0e3eb" stroke-width="0.8"/>
<text x="1370.6" y="31.9" font-size="8.2" fill="#444" textLength="12.6" lengthAdjust="spacingAndGlyphs">USD</text>
<rect x="1362" y="178.7" width="18" height="17.8" fill="#d1d4dc"/>
<text x="1367" y="186.2" font-size="8" fill="#222" textLength="14.6" lengthAdjust="spacingAndGlyphs">7.16</text>
<text x="1367" y="195.3" font-size="7.6" fill="#5a5e69" textLength="17.5" lengthAdjust="spacingAndGlyphs">09:40</text>
<rect x="1362" y="167" width="18" height="10.6" fill="#000"/>
<text x="1367" y="175.3" font-size="8.2" font-weight="bold" fill="#fff">7.17</text>
<rect x="1362" y="284.2" width="18" height="10.6" fill="#000"/>
<text x="1367" y="292.6" font-size="8.2" font-weight="bold" fill="#fff">6.70</text>
<rect x="1322" y="177.9" width="39.3" height="10.6" fill="#d1d4dc"/>
<text x="1324.7" y="185.7" font-size="6.6" fill="#363a45" textLength="32.8" lengthAdjust="spacingAndGlyphs">NEARUSDT</text>
<text x="48.3" y="745.1" font-size="7.8" fill="#555" text-anchor="middle" textLength="17.2" lengthAdjust="spacingAndGlyphs">12:00</text>
<text x="119.9" y="745.1" font-size="7.8" fill="#555" text-anchor="middle" textLength="17.2" lengthAdjust="spacingAndGlyphs">18:00</text>
<text x="191.4" y="745.1" font-size="7.8" fill="#555" text-anchor="middle" textLength="3.8" lengthAdjust="spacingAndGlyphs">9</text>
<text x="263.0" y="745.1" font-size="7.8" fill="#555" text-anchor="middle" textLength="17.2" lengthAdjust="spacingAndGlyphs">06:00</text>
<text x="334.5" y="745.1" font-size="7.8" fill="#555" text-anchor="middle" textLength="17.2" lengthAdjust="spacingAndGlyphs">12:00</text>
<text x="406.1" y="745.1" font-size="7.8" fill="#555" text-anchor="middle" textLength="17.2" lengthAdjust="spacingAndGlyphs">18:00</text>
<text x="477.7" y="745.1" font-size="7.8" fill="#555" text-anchor="middle" textLength="7.6" lengthAdjust="spacingAndGlyphs">10</text>
<text x="549.2" y="745.1" font-size="7.8" fill="#555" text-anchor="middle" textLength="17.2" lengthAdjust="spacingAndGlyphs">06:00</text>
<text x="620.8" y="745.1" font-size="7.8" fill="#555" text-anchor="middle" textLength="17.2" lengthAdjust="spacingAndGlyphs">12:00</text>
<text x="692.3" y="745.1" font-size="7.8" fill="#555" text-anchor="middle" textLength="17.2" lengthAdjust="spacingAndGlyphs">18:00</text>
<text x="763.9" y="745.1" font-size="7.8" fill="#555" text-anchor="middle" textLength="7.6" lengthAdjust="spacingAndGlyphs">11</text>
<text x="835.4" y="745.1" font-size="7.8" fill="#555" text-anchor="middle" textLength="17.2" lengthAdjust="spacingAndGlyphs">06:00</text>
<text x="907.0" y="745.1" font-size="7.8" fill="#555" text-anchor="middle" textLength="17.2" lengthAdjust="spacingAndGlyphs">12:00</text>
<text x="978.5" y="745.1" font-size="7.8" fill="#555" text-anchor="middle" textLength="17.2" lengthAdjust="spacingAndGlyphs">18:00</text>
<text x="1050.1" y="745.1" font-size="7.8" fill="#555" text-anchor="middle" textLength="7.6" lengthAdjust="spacingAndGlyphs">12</text>
<text x="1121.7" y="745.1" font-size="7.8" fill="#555" text-anchor="middle" textLength="17.2" lengthAdjust="spacingAndGlyphs">06:00</text>
<text x="1193.2" y="745.1" font-size="7.8" fill="#555" text-anchor="middle" textLength="17.2" lengthAdjust="spacingAndGlyphs">12:00</text>
<text x="1264.8" y="745.1" font-size="7.8" fill="#555" text-anchor="middle" textLength="17.2" lengthAdjust="spacingAndGlyphs">18:00</text>
<text x="1336.3" y="745.1" font-size="7.8" fill="#555" text-anchor="middle" textLength="7.6" lengthAdjust="spacingAndGlyphs">13</text>
<text x="-1.5" y="12.8" font-size="8.6" fill="#3c3c3c" textLength="232.5" lengthAdjust="spacingAndGlyphs">oinSherpa published on TradingView.com, Mar 12, 2024 11:20 UTC</text>
<text x="-1.9" y="30.6" font-size="8.3" fill="#555" textLength="9.5" lengthAdjust="spacingAndGlyphs">AR</text>
<text x="11.6" y="30.6" font-size="8.3" fill="#555" textLength="2.2" lengthAdjust="spacingAndGlyphs">/</text>
<text x="17.7" y="30.6" font-size="8.3" fill="#555" textLength="32.6" lengthAdjust="spacingAndGlyphs">TetherUS,</text>
<text x="54.2" y="30.6" font-size="8.3" fill="#555" textLength="9.8" lengthAdjust="spacingAndGlyphs">30,</text>
<text x="67.9" y="30.6" font-size="8.3" fill="#555" textLength="29.1" lengthAdjust="spacingAndGlyphs">BINANCE</text>
<text x="103.1" y="30.6" font-size="8.3" fill="#555" textLength="23.8" lengthAdjust="spacingAndGlyphs">O<tspan fill="#1a1a1a">7.153</tspan></text>
<text x="132.7" y="30.6" font-size="8.3" fill="#555" textLength="23.7" lengthAdjust="spacingAndGlyphs">H<tspan fill="#1a1a1a">7.197</tspan></text>
<text x="162.3" y="30.6" font-size="8.3" fill="#555" textLength="22.4" lengthAdjust="spacingAndGlyphs">L<tspan fill="#1a1a1a">7.109</tspan></text>
<text x="190.2" y="30.6" font-size="8.3" fill="#555" textLength="23.0" lengthAdjust="spacingAndGlyphs">C<tspan fill="#1a1a1a">7.169</tspan></text>
<text x="218.7" y="30.6" font-size="8.3" fill="#1a1a1a" textLength="55.5" lengthAdjust="spacingAndGlyphs">+0.016 (+0.22%)</text>
<text x="-1.6" y="41.9" font-size="8.3" fill="#666">l</text>
<text x="3.6" y="41.9" font-size="8.3" fill="#555" textLength="22.6" lengthAdjust="spacingAndGlyphs">· NEAR</text>
<text x="31.2" y="41.9" font-size="8.3" fill="#26a69a" textLength="32.6" lengthAdjust="spacingAndGlyphs">668.334K</text>
<text x="0.3" y="766.9" font-size="8.9" fill="#444" textLength="45.6" lengthAdjust="spacingAndGlyphs">TradingView</text>
<circle cx="1181.6" cy="725.4" r="6.9" fill="#fff"/>
<path d="M1187.95 723.2 A6.7 6.7 0 1 1 1184.6 719.4" fill="none" stroke="#8a2aa8" stroke-width="1"/>
<path d="M1183.4 721.9 L1178.9 725.9 L1181.4 725.9 L1179.6 729.1 L1184.3 724.6 L1181.8 724.6 Z" fill="#8a22ac" stroke="#8a22ac" stroke-width="0.35" stroke-linejoin="round"/>
<circle cx="1186.3" cy="720.9" r="1.75" fill="#d9303f"/>
</svg></body></html>
